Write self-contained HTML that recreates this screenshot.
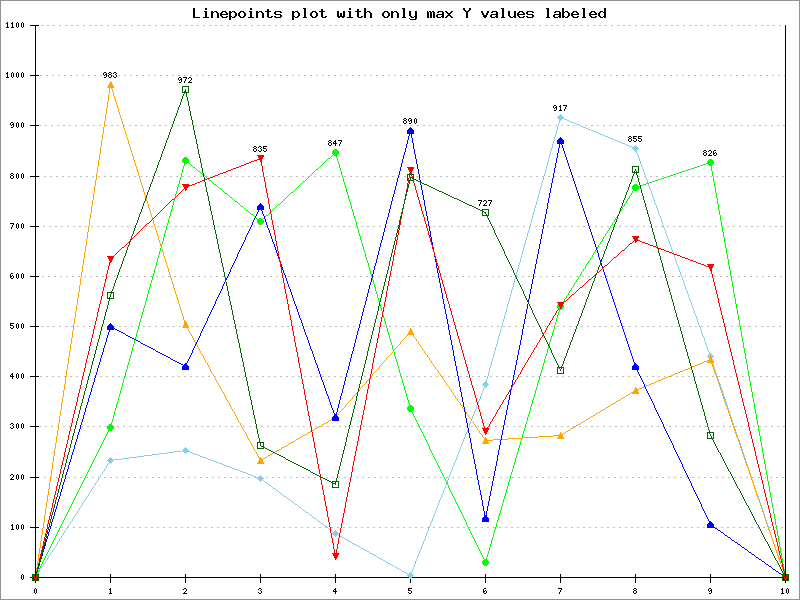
<!DOCTYPE html>
<html lang="en">
<head>
<meta charset="utf-8">
<title>Linepoints plot with only max Y values labeled</title>
<style>
  html, body { margin: 0; padding: 0; background: #ffffff; }
  body { width: 800px; height: 600px; overflow: hidden; font-family: "Liberation Sans", sans-serif; }
  svg { display: block; width: 800px; height: 600px; }
  /* every drawn primitive is a 1px, non-antialiased run (PHPlot / GD look) */
  .px path, .px line { fill: none; stroke-width: 1; stroke-linecap: butt; }
  .grid line { stroke: #bebebe; stroke-dasharray: 2 4; }
  .live text { font-family: "Liberation Mono", monospace; fill: transparent; stroke: none; }
</style>
</head>
<body>
<svg width="800" height="600" viewBox="0 0 800 600" shape-rendering="crispEdges" role="img" aria-label="Linepoints plot with only max Y values labeled">
  <!-- image background + plain image border -->
  <rect x="0" y="0" width="800" height="600" fill="#ffffff"/>
  <rect x="0.5" y="0.5" width="799" height="599" fill="none" stroke="#929292" stroke-width="1"/>

  <!-- main title (GD giant 9x15 bitmap font) -->
  <g class="px title">
    <path stroke="#000000" d="M193.5 8v10M194.5 8v10M205 8.5h2M250 8.5h2M303 8.5h3M349 8.5h2M364.5 8v10M365.5 8v10M402 8.5h3M463 8.5h2M469.5 8v3M470.5 8v2M501 8.5h3M546 8.5h3M562.5 8v10M563.5 8v10M582 8.5h3M604.5 8v10M605.5 8v10M205 9.5h2M250 9.5h2M267.5 9v8M268.5 9v9M304.5 9v9M305.5 9v9M321.5 9v8M322.5 9v9M349 9.5h2M357.5 9v8M358.5 9v9M403.5 9v9M404.5 9v9M463 9.5h2M502.5 9v9M503.5 9v9M547.5 9v9M548.5 9v9M583.5 9v9M584.5 9v9M464 10.5h2M468.5 10v2M204 11.5h3M211.5 11v7M212.5 11v7M214 11.5h3M222 11.5h4M229.5 11v9M230.5 11v9M232 11.5h3M240 11.5h4M249 11.5h3M256.5 11v7M257.5 11v7M259 11.5h3M265 11.5h2M269 11.5h2M275 11.5h6M292.5 11v9M293.5 11v9M295 11.5h3M312 11.5h4M319 11.5h2M323 11.5h2M337.5 11v6M338.5 11v7M343.5 11v7M344.5 11v6M348 11.5h3M355 11.5h2M359 11.5h2M367 11.5h3M384 11.5h4M391.5 11v7M392.5 11v7M394 11.5h3M409.5 11v5M410.5 11v6M415.5 11v9M416.5 11v8M427.5 11v7M429 11.5h2M432 11.5h2M438 11.5h5M445 11.5h2M451 11.5h2M465 11.5h3M481 11.5h2M487.5 11v4M488.5 11v2M492 11.5h5M508.5 11v5M509.5 11v6M514.5 11v7M515.5 11v7M519 11.5h4M527 11.5h6M555 11.5h5M565 11.5h3M573 11.5h4M591 11.5h4M600 11.5h3M205.5 12v6M206.5 12v6M213 12.5h1M216 12.5h2M221.5 12v5M222 12.5h1M225 12.5h2M231 12.5h1M234 12.5h2M239.5 12v5M240 12.5h1M243 12.5h2M250.5 12v6M251.5 12v6M258 12.5h1M261 12.5h2M274 12.5h2M280 12.5h2M294 12.5h1M297 12.5h2M311.5 12v5M312 12.5h1M315 12.5h2M349.5 12v6M350.5 12v6M366 12.5h1M369 12.5h2M383.5 12v5M384 12.5h1M387 12.5h2M393 12.5h1M396 12.5h2M428.5 12v6M430.5 12v6M431.5 12v6M433.5 12v6M434.5 12v6M437 12.5h2M442.5 12v6M443.5 12v6M446 12.5h2M450 12.5h2M466.5 12v6M467.5 12v6M481 12.5h2M491 12.5h2M496.5 12v6M497.5 12v6M518.5 12v5M519 12.5h1M522 12.5h2M526 12.5h2M532 12.5h2M554 12.5h2M559.5 12v6M560.5 12v6M564 12.5h1M567 12.5h2M572.5 12v5M573 12.5h1M576 12.5h2M590.5 12v5M591 12.5h1M594 12.5h2M599.5 12v5M600 12.5h1M603 12.5h1M217.5 13v5M218.5 13v5M220.5 13v3M226 13.5h2M235.5 13v4M236.5 13v3M238.5 13v3M244.5 13v4M245.5 13v3M262.5 13v5M263.5 13v5M274 13.5h2M298.5 13v4M299.5 13v3M310.5 13v3M316.5 13v4M317.5 13v3M340.5 13v4M341.5 13v4M370.5 13v5M371.5 13v5M382.5 13v3M388.5 13v4M389.5 13v3M397.5 13v5M398.5 13v5M447 13.5h4M482 13.5h2M486.5 13v4M517.5 13v3M523 13.5h2M526 13.5h2M568.5 13v4M569.5 13v3M571.5 13v3M577 13.5h2M589.5 13v3M595 13.5h2M598.5 13v3M222 14.5h6M275 14.5h6M437 14.5h5M448 14.5h2M482 14.5h2M491 14.5h5M519 14.5h6M527 14.5h6M554 14.5h5M573 14.5h6M591 14.5h6M280.5 15v3M281.5 15v2M436 15.5h2M447 15.5h4M483 15.5h3M490 15.5h2M532.5 15v3M533.5 15v2M553 15.5h2M222.5 16v2M226 16.5h2M231 16.5h1M234.5 16v2M240.5 16v2M243.5 16v2M271 16.5h2M274 16.5h2M294 16.5h1M297.5 16v2M312.5 16v2M315.5 16v2M325 16.5h2M339.5 16v2M342.5 16v2M361 16.5h2M384.5 16v2M387.5 16v2M411.5 16v2M414 16.5h1M436 16.5h2M441 16.5h1M446 16.5h2M450 16.5h2M483 16.5h3M490 16.5h2M495 16.5h1M510.5 16v2M513 16.5h1M519.5 16v2M523 16.5h2M526 16.5h2M553 16.5h2M558 16.5h1M564 16.5h1M567.5 16v2M573.5 16v2M577 16.5h2M591.5 16v2M595 16.5h2M600.5 16v2M603 16.5h1M195 17.5h5M203 17.5h2M207 17.5h2M223 17.5h4M232 17.5h2M241 17.5h2M248 17.5h2M252 17.5h2M269 17.5h3M275 17.5h5M295 17.5h2M303 17.5h1M306 17.5h1M313 17.5h2M323 17.5h3M347 17.5h2M351 17.5h2M359 17.5h3M385 17.5h2M402 17.5h1M405 17.5h1M412 17.5h2M437 17.5h4M445 17.5h2M451 17.5h2M484 17.5h2M491 17.5h4M501 17.5h1M504 17.5h1M511 17.5h2M520 17.5h4M527 17.5h5M546 17.5h1M549 17.5h1M554 17.5h4M565 17.5h2M574 17.5h4M582 17.5h1M585 17.5h1M592 17.5h4M601 17.5h2M409 18.5h1M410 19.5h5"/>
  </g>

  <!-- dashed horizontal grid (2 on / 4 off, phase carried from line to line) -->
  <g class="px grid">
    <line x1="36" y1="577.5" x2="785" y2="577.5" stroke-dashoffset="0"/>
    <line x1="36" y1="527.5" x2="785" y2="527.5" stroke-dashoffset="5"/>
    <line x1="36" y1="477.5" x2="785" y2="477.5" stroke-dashoffset="4"/>
    <line x1="36" y1="426.5" x2="785" y2="426.5" stroke-dashoffset="3"/>
    <line x1="36" y1="376.5" x2="785" y2="376.5" stroke-dashoffset="2"/>
    <line x1="36" y1="326.5" x2="785" y2="326.5" stroke-dashoffset="1"/>
    <line x1="36" y1="276.5" x2="785" y2="276.5" stroke-dashoffset="0"/>
    <line x1="36" y1="226.5" x2="785" y2="226.5" stroke-dashoffset="5"/>
    <line x1="36" y1="176.5" x2="785" y2="176.5" stroke-dashoffset="4"/>
    <line x1="36" y1="125.5" x2="785" y2="125.5" stroke-dashoffset="3"/>
    <line x1="36" y1="75.5" x2="785" y2="75.5" stroke-dashoffset="2"/>
    <line x1="36" y1="25.5" x2="785" y2="25.5" stroke-dashoffset="1"/>
  </g>

  <!-- axes, tick marks, tick labels (GD tiny 5x8 bitmap font) -->
  <g class="px axes">
    <path stroke="#000000" d="M7.5 22v6M12.5 22v6M17 22.5h1M22 22.5h1M6 23.5h1M11 23.5h1M16.5 23v4M18.5 23v4M21.5 23v4M23.5 23v4M30 25.5h9M35.5 26v557M6 27.5h1M8 27.5h1M11 27.5h1M13 27.5h1M17 27.5h1M22 27.5h1M7.5 72v6M12 72.5h1M17 72.5h1M22 72.5h1M6 73.5h1M11.5 73v4M13.5 73v4M16.5 73v4M18.5 73v4M21.5 73v4M23.5 73v4M30 75.5h5M36 75.5h3M6 77.5h1M8 77.5h1M12 77.5h1M17 77.5h1M22 77.5h1M11 122.5h2M17 122.5h1M22 122.5h1M10.5 123v2M13.5 123v4M16.5 123v4M18.5 123v4M21.5 123v4M23.5 123v4M12 124.5h1M11 125.5h1M30 125.5h5M36 125.5h3M11 127.5h2M17 127.5h1M22 127.5h1M11 173.5h2M17 173.5h1M22 173.5h1M10 174.5h1M13 174.5h1M16.5 174v4M18.5 174v4M21.5 174v4M23.5 174v4M11 175.5h2M10.5 176v2M13.5 176v2M30 176.5h5M36 176.5h3M11 178.5h2M17 178.5h1M22 178.5h1M10 223.5h4M17 223.5h1M22 223.5h1M13 224.5h1M16.5 224v4M18.5 224v4M21.5 224v4M23.5 224v4M12.5 225v2M30 226.5h5M36 226.5h3M11.5 227v2M17 228.5h1M22 228.5h1M11 273.5h2M17 273.5h1M22 273.5h1M10.5 274v4M16.5 274v4M18.5 274v4M21.5 274v4M23.5 274v4M12 275.5h1M11 276.5h1M13.5 276v2M30 276.5h5M36 276.5h3M11 278.5h2M17 278.5h1M22 278.5h1M10 323.5h4M17 323.5h1M22 323.5h1M10.5 324v2M16.5 324v4M18.5 324v4M21.5 324v4M23.5 324v4M11 325.5h2M13.5 326v2M30 326.5h5M36 326.5h3M10 327.5h1M11 328.5h2M17 328.5h1M22 328.5h1M12.5 373v6M17 373.5h1M22 373.5h1M11 374.5h1M16.5 374v4M18.5 374v4M21.5 374v4M23.5 374v4M10.5 375v2M11 376.5h1M13 376.5h1M30 376.5h5M36 376.5h3M17 378.5h1M22 378.5h1M11 423.5h2M17 423.5h1M22 423.5h1M10 424.5h1M13 424.5h1M16.5 424v4M18.5 424v4M21.5 424v4M23.5 424v4M12 425.5h1M13.5 426v2M30 426.5h5M36 426.5h3M10 427.5h1M11 428.5h2M17 428.5h1M22 428.5h1M11 474.5h2M17 474.5h1M22 474.5h1M10 475.5h1M13.5 475v2M16.5 475v4M18.5 475v4M21.5 475v4M23.5 475v4M12 477.5h1M30 477.5h5M36 477.5h3M11.5 478v2M10 479.5h1M12 479.5h2M17 479.5h1M22 479.5h1M12.5 524v6M17 524.5h1M22 524.5h1M11 525.5h1M16.5 525v4M18.5 525v4M21.5 525v4M23.5 525v4M30 527.5h5M36 527.5h3M11 529.5h1M13 529.5h1M17 529.5h1M22 529.5h1M22 574.5h1M110.5 574v9M185.5 574v9M260.5 574v9M335.5 574v9M410.5 574v9M485.5 574v9M560.5 574v9M635.5 574v9M710.5 574v9M785.5 574v9M21.5 575v4M23.5 575v4M30 577.5h5M36 577.5h74M111 577.5h74M186 577.5h74M261 577.5h74M336 577.5h74M411 577.5h74M486 577.5h74M561 577.5h74M636 577.5h74M711 577.5h74M22 579.5h1M35 588.5h1M110.5 588v6M184 588.5h2M259 588.5h2M335.5 588v6M408 588.5h4M484 588.5h2M558 588.5h4M634 588.5h2M709 588.5h2M782.5 588v6M787 588.5h1M34.5 589v4M36.5 589v4M109 589.5h1M183 589.5h1M186.5 589v2M258 589.5h1M261 589.5h1M334 589.5h1M408.5 589v2M483.5 589v4M561 589.5h1M633 589.5h1M636 589.5h1M708.5 589v2M711.5 589v4M781 589.5h1M786.5 589v4M788.5 589v4M260 590.5h1M333.5 590v2M409 590.5h2M485 590.5h1M560.5 590v2M634 590.5h2M710 590.5h1M185 591.5h1M261.5 591v2M334 591.5h1M336 591.5h1M411.5 591v2M484 591.5h1M486.5 591v2M633.5 591v2M636.5 591v2M709 591.5h1M184.5 592v2M258 592.5h1M408 592.5h1M559.5 592v2M35 593.5h1M109 593.5h1M111 593.5h1M183 593.5h1M185 593.5h2M259 593.5h2M409 593.5h2M484 593.5h2M634 593.5h2M709 593.5h2M781 593.5h1M783 593.5h1M787 593.5h1"/>
  </g>

  <!-- data lines: SkyBlue, green, orange, blue, red, DarkGreen -->
  <g class="px lines">
    <path stroke="#0000ff" d="M410.5 130v3M409.5 132v4M411.5 133v5M408.5 136v4M412.5 138v5M407.5 140v4M560.5 140v3M561.5 142v3M413.5 143v6M559.5 143v5M406.5 144v4M562.5 145v3M405.5 148v4M558.5 148v5M563.5 148v3M414.5 149v5M564.5 151v3M404.5 152v3M557.5 153v5M415.5 154v5M565.5 154v3M403.5 155v4M566.5 157v3M556.5 158v5M402.5 159v4M416.5 159v5M567.5 160v3M401.5 163v4M555.5 163v5M568.5 163v3M417.5 164v5M569.5 166v3M400.5 167v4M554.5 168v5M418.5 169v5M570.5 169v3M399.5 171v4M571.5 172v3M553.5 173v5M419.5 174v6M398.5 175v3M572.5 175v3M397.5 178v4M552.5 178v5M573.5 178v3M420.5 180v2M574.5 181v3M396.5 182v4M420.5 183v2M551.5 183v5M575.5 184v3M421.5 185v5M395.5 186v4M576.5 187v3M550.5 188v5M394.5 190v4M422.5 190v5M577.5 190v3M549.5 193v5M578.5 193v3M393.5 194v3M423.5 195v5M579.5 196v3M392.5 197v4M548.5 198v5M580.5 199v3M424.5 200v6M391.5 201v4M581.5 202v3M547.5 203v6M390.5 205v4M582.5 205v3M260.5 206v2M425.5 206v5M259.5 208v2M261.5 208v3M583.5 208v3M389.5 209v4M546.5 209v5M258.5 210v2M262.5 211v3M426.5 211v5M584.5 211v3M257.5 212v2M388.5 213v4M256.5 214v2M263.5 214v2M545.5 214v5M585.5 214v3M255.5 216v2M264.5 216v3M427.5 216v5M387.5 217v3M586.5 217v3M254.5 218v2M265.5 219v3M544.5 219v5M253.5 220v2M386.5 220v4M587.5 220v3M428.5 221v5M252.5 222v3M266.5 222v3M588.5 223v3M385.5 224v4M543.5 224v5M251.5 225v2M267.5 225v3M429.5 226v5M589.5 226v3M250.5 227v2M268.5 228v2M384.5 228v4M249.5 229v2M542.5 229v5M590.5 229v3M269.5 230v3M248.5 231v2M430.5 231v6M383.5 232v4M591.5 232v3M247.5 233v2M270.5 233v3M541.5 234v5M246.5 235v2M592.5 235v3M271.5 236v3M382.5 236v4M245.5 237v3M431.5 237v5M593.5 238v3M272.5 239v3M540.5 239v5M244.5 240v2M381.5 240v3M594.5 241v3M243.5 242v2M273.5 242v2M432.5 242v3M380.5 243v4M242.5 244v2M274.5 244v3M539.5 244v5M595.5 244v3M241.5 246v2M275.5 247v3M379.5 247v4M433.5 247v2M596.5 247v3M240.5 248v2M538.5 249v5M239.5 250v2M276.5 250v3M597.5 250v3M378.5 251v4M238.5 252v2M277.5 253v3M598.5 253v4M237.5 254v3M537.5 254v5M377.5 255v4M434 256.5h1M236.5 257v2M278.5 257v2M599.5 257v3M235.5 259v2M376.5 259v4M435.5 259v3M536.5 259v5M600.5 260v2M234.5 261v2M280 261.5h1M233.5 263v2M375.5 263v3M436.5 263v5M601.5 263v3M281.5 264v3M535.5 264v5M232.5 265v2M374.5 266v4M602.5 266v2M231.5 267v2M282.5 267v3M437.5 268v5M230.5 269v3M534.5 269v5M603.5 269v3M283.5 270v3M373.5 270v4M229.5 272v2M604.5 272v3M284.5 273v2M438.5 273v5M228.5 274v2M372.5 274v4M533.5 274v5M285.5 275v3M605.5 275v3M227.5 276v2M226.5 278v2M286.5 278v3M371.5 278v4M439.5 278v5M606.5 278v3M532.5 279v5M287.5 281v3M607.5 281v3M224.5 282v2M370.5 282v3M440.5 283v5M223.5 284v2M288.5 284v3M531.5 284v5M608.5 284v3M369.5 285v4M222.5 286v3M289.5 287v2M609.5 287v3M441.5 288v5M221.5 289v2M290.5 289v3M368.5 289v4M530.5 289v5M610.5 290v3M220.5 291v2M291.5 292v3M219.5 293v2M367.5 293v4M442.5 293v6M611.5 293v3M529.5 294v5M218.5 295v2M292.5 295v3M612.5 296v3M217.5 297v2M366.5 297v4M293.5 298v3M216.5 299v2M443.5 299v5M528.5 299v3M613.5 299v3M215.5 301v3M294.5 301v3M365.5 301v4M614.5 302v3M214.5 304v2M295.5 304v2M444.5 304v5M527.5 304v5M364.5 305v3M615.5 305v3M213.5 306v2M296.5 306v3M212.5 308v2M363.5 308v4M616.5 308v3M297.5 309v3M445.5 309v5M526.5 309v5M211.5 310v2M617.5 311v3M210.5 312v2M298.5 312v3M362.5 312v4M209.5 314v2M446.5 314v5M525.5 314v5M618.5 314v3M299.5 315v3M208.5 316v2M361.5 316v4M619.5 317v3M207.5 318v3M300.5 318v2M447.5 319v5M524.5 319v5M301.5 320v3M360.5 320v4M620.5 320v3M206.5 321v2M205.5 323v2M302.5 323v3M621.5 323v3M359.5 324v4M448.5 324v6M523.5 324v5M204.5 325v2M110.5 326v2M303.5 326v3M622.5 326v3M111 327.5h2M203.5 327v2M109.5 328v4M113 328.5h2M358.5 328v3M115 329.5h2M202.5 329v2M304.5 329v3M522.5 329v6M623.5 329v3M117 330.5h2M449.5 330v5M119 331.5h2M201.5 331v2M357.5 331v4M108.5 332v3M121 332.5h2M305.5 332v3M624.5 332v3M123 333.5h2M200.5 333v3M125 334.5h1M107.5 335v3M126 335.5h2M306.5 335v2M356.5 335v4M450.5 335v5M521.5 335v5M625.5 335v3M128 336.5h2M199.5 336v2M130 337.5h2M307.5 337v3M106.5 338v4M132 338.5h2M198.5 338v2M626.5 338v3M134 339.5h2M355.5 339v4M136 340.5h2M197.5 340v2M308.5 340v3M451.5 340v5M520.5 340v5M138 341.5h2M627.5 341v3M105.5 342v3M140 342.5h1M196.5 342v2M141 343.5h2M309.5 343v3M354.5 343v4M143 344.5h2M195.5 344v2M628.5 344v3M104.5 345v3M145 345.5h2M452.5 345v5M519.5 345v5M147 346.5h2M194.5 346v2M310.5 346v3M149 347.5h2M353.5 347v4M629.5 347v3M103.5 348v4M151 348.5h2M193.5 348v2M153 349.5h2M311.5 349v2M155 350.5h1M192.5 350v3M453.5 350v6M518.5 350v5M630.5 350v3M156 351.5h2M312.5 351v3M352.5 351v3M102.5 352v3M158 352.5h2M160 353.5h2M191.5 353v2M631.5 353v3M162 354.5h2M313.5 354v3M351.5 354v4M101.5 355v3M164 355.5h2M190.5 355v2M517.5 355v5M166 356.5h2M454.5 356v5M632.5 356v3M168 357.5h2M189.5 357v2M314.5 357v3M100.5 358v4M170 358.5h1M350.5 358v4M171 359.5h2M188.5 359v2M633.5 359v3M173 360.5h2M315.5 360v3M516.5 360v5M175 361.5h2M187.5 361v2M455.5 361v5M99.5 362v3M177 362.5h2M349.5 362v4M634.5 362v3M179 363.5h2M186.5 363v2M316.5 363v2M181 364.5h2M98.5 365v3M183 365.5h3M317.5 365v3M515.5 365v5M635.5 365v3M185 366.5h1M348.5 366v4M456.5 366v5M97.5 368v4M318.5 368v3M636.5 368v2M347.5 370v3M514.5 370v5M637.5 370v2M319.5 371v3M457.5 371v5M96.5 372v3M638.5 372v2M346.5 373v4M320.5 374v3M639.5 374v2M95.5 375v3M513.5 375v5M458.5 376v5M640.5 376v2M321.5 377v3M345.5 377v4M94.5 378v4M641.5 378v2M322.5 380v2M512.5 380v5M642.5 380v2M344.5 381v4M459.5 381v6M93.5 382v3M323.5 382v3M643.5 382v2M644.5 384v3M92.5 385v3M324.5 385v3M343.5 385v4M511.5 385v2M460.5 387v5M645.5 387v2M91.5 388v4M325.5 388v3M342.5 389v4M511 389.5h1M646.5 389v2M510.5 390v5M326.5 391v3M647.5 391v2M90.5 392v3M461.5 392v5M341.5 393v3M648.5 393v2M327.5 394v2M89.5 395v3M509.5 395v5M649.5 395v2M328.5 396v3M340.5 396v4M462.5 397v5M650.5 397v2M88.5 398v4M329.5 399v3M651.5 399v2M339.5 400v4M508.5 400v5M652.5 401v2M87.5 402v3M330.5 402v3M463.5 402v5M653.5 403v2M338.5 404v4M86.5 405v3M331.5 405v3M507.5 405v5M654.5 405v3M464.5 407v5M85.5 408v4M332.5 408v2M337.5 408v4M655.5 408v2M333.5 410v3M506.5 410v5M656.5 410v2M84.5 412v3M336.5 412v4M465.5 412v6M657.5 412v2M334.5 413v3M658.5 414v2M83.5 415v4M505.5 415v5M335.5 416v2M659.5 416v2M466.5 418v5M660.5 418v2M82.5 419v3M504.5 420v5M661.5 420v2M81.5 422v3M662.5 422v2M467.5 423v5M663.5 424v3M80.5 425v4M503.5 425v5M664.5 427v2M468.5 428v5M79.5 429v3M665.5 429v2M502.5 430v5M666.5 431v2M78.5 432v3M469.5 433v5M667.5 433v2M77.5 435v4M501.5 435v5M668.5 435v2M669.5 437v2M470.5 438v5M76.5 439v3M670.5 439v2M500.5 440v5M671.5 441v2M75.5 442v3M471.5 443v6M672.5 443v2M74.5 445v4M499.5 445v5M673.5 445v3M674.5 448v2M73.5 449v3M472.5 449v5M498.5 450v5M675.5 450v2M72.5 452v3M676.5 452v2M473.5 454v5M677.5 454v2M71.5 455v4M497.5 455v6M678.5 456v2M679.5 458v2M70.5 459v3M474.5 459v5M680.5 460v2M496.5 461v5M69.5 462v3M681.5 462v2M475.5 464v5M682.5 464v3M68.5 465v4M495.5 466v5M683.5 467v2M67.5 469v3M476.5 469v6M684.5 469v2M494.5 471v5M685.5 471v2M66.5 472v3M686.5 473v2M65.5 475v4M477.5 475v5M687.5 475v2M493.5 476v5M688.5 477v2M64.5 479v3M689.5 479v2M478.5 480v5M492.5 481v5M690.5 481v2M63.5 482v3M691.5 483v3M62.5 485v4M479.5 485v5M491.5 486v5M692.5 486v2M693.5 488v2M61.5 489v3M480.5 490v5M694.5 490v2M490.5 491v5M60.5 492v4M695.5 492v2M696.5 494v2M481.5 495v5M59.5 496v3M489.5 496v5M697.5 496v2M698.5 498v2M58.5 499v3M482.5 500v6M699.5 500v2M488.5 501v5M57.5 502v4M700.5 502v2M701.5 504v3M56.5 506v3M483.5 506v5M487.5 506v5M702.5 507v2M55.5 509v3M703.5 509v2M484.5 511v5M486.5 511v5M704.5 511v2M54.5 512v4M705.5 513v2M706.5 515v2M53.5 516v3M485.5 516v3M707.5 517v2M52.5 519v3M708.5 519v2M709.5 521v2M51.5 522v4M710.5 523v2M711 525.5h2M50.5 526v3M713 526.5h1M714 527.5h1M715 528.5h2M49.5 529v3M717 529.5h1M718 530.5h2M720 531.5h1M48.5 532v4M721 532.5h2M723 533.5h1M724 534.5h1M725 535.5h2M47.5 536v3M727 536.5h1M728 537.5h2M730 538.5h1M46.5 539v3M731 539.5h1M732 540.5h2M734 541.5h1M45.5 542v4M735 542.5h2M737 543.5h1M738 544.5h2M740 545.5h1M44.5 546v3M741 546.5h1M742 547.5h2M744 548.5h1M43.5 549v3M745 549.5h2M747 550.5h1M748 551.5h1M749 552.5h2M42.5 553v3M751 553.5h1M752 554.5h2M754 555.5h1M755 556.5h1M41.5 557v2M756 557.5h2M758 558.5h1M759 559.5h2M761 560.5h1M40 561.5h1M762 561.5h2M764 562.5h1M765 563.5h1M39.5 564v2M766 564.5h2M768 565.5h1M769 566.5h2M771 567.5h1M38 568.5h1M772 568.5h1M773 569.5h2M775 570.5h1M776 571.5h2M778 572.5h1M779 573.5h2M781 574.5h1M782 575.5h1M783 576.5h1"/>
    <path stroke="#006400" d="M185.5 89v3M184.5 91v3M186.5 92v5M183.5 94v2M182.5 96v3M187.5 97v4M181.5 99v3M188.5 101v5M180.5 102v3M179.5 105v2M189.5 106v5M178.5 107v3M177.5 110v3M190.5 111v5M176.5 113v3M175.5 116v2M191.5 116v4M174.5 118v3M192.5 120v5M173.5 121v3M172.5 124v3M193.5 125v5M171.5 127v2M170.5 129v3M194.5 130v5M169.5 132v3M168.5 135v3M195.5 135v4M167.5 138v2M196.5 139v5M166.5 140v3M165.5 143v3M197.5 144v5M164.5 146v3M163.5 149v2M198.5 149v5M162.5 151v3M161.5 154v3M199.5 154v4M160.5 157v3M200.5 158v5M159.5 160v2M158.5 162v3M201.5 163v5M157.5 165v3M156.5 168v3M202.5 168v5M635.5 169v2M155.5 171v2M634.5 171v3M636.5 171v4M154.5 173v3M203.5 173v4M633.5 174v2M637.5 175v3M153.5 176v3M632.5 176v3M204.5 177v5M410.5 177v3M411 177.5h1M412 178.5h2M638.5 178v4M152.5 179v3M414 179.5h2M631.5 179v3M409.5 180v4M416 180.5h2M418 181.5h2M151.5 182v2M205.5 182v5M420 182.5h2M630.5 182v2M639.5 182v3M422 183.5h2M150.5 184v3M408.5 184v4M424 184.5h3M629.5 184v3M427 185.5h2M640.5 185v4M429 186.5h2M149.5 187v3M206.5 187v5M431 187.5h2M628.5 187v3M407.5 188v4M433 188.5h2M435 189.5h2M641.5 189v4M148.5 190v2M437 190.5h2M627.5 190v2M439 191.5h3M147.5 192v3M207.5 192v4M406.5 192v4M442 192.5h2M626.5 192v3M444 193.5h2M642.5 193v3M446 194.5h2M146.5 195v3M448 195.5h2M625.5 195v3M208.5 196v5M405.5 196v4M450 196.5h2M643.5 196v4M452 197.5h2M145.5 198v3M454 198.5h3M624.5 198v2M457 199.5h2M404.5 200v4M459 200.5h2M623.5 200v3M644.5 200v3M144.5 201v2M209.5 201v5M461 201.5h2M463 202.5h2M143.5 203v3M465 203.5h2M622.5 203v3M645.5 203v4M403.5 204v4M467 204.5h2M469 205.5h3M142.5 206v3M210.5 206v5M472 206.5h2M621.5 206v2M474 207.5h2M646.5 207v3M402.5 208v4M476 208.5h2M620.5 208v3M141.5 209v3M478 209.5h2M480 210.5h2M647.5 210v4M211.5 211v4M482 211.5h2M619.5 211v3M140.5 212v2M401.5 212v4M484 212.5h2M485 213.5h1M139.5 214v3M486.5 214v2M618.5 214v2M648.5 214v3M212.5 215v5M400.5 216v4M487.5 216v2M617.5 216v3M138.5 217v3M649.5 217v4M488.5 218v2M616.5 219v3M137.5 220v3M213.5 220v5M399.5 220v5M489.5 220v2M650.5 221v3M490.5 222v2M615.5 222v2M136.5 223v2M491.5 224v2M614.5 224v3M651.5 224v4M135.5 225v3M214.5 225v5M398.5 225v4M492.5 226v2M613.5 227v3M134.5 228v3M493.5 228v2M652.5 228v4M397.5 229v4M215.5 230v4M494.5 230v3M612.5 230v2M133.5 231v3M611.5 232v3M653.5 232v3M396.5 233v4M495.5 233v2M132.5 234v2M216.5 234v5M496.5 235v2M610.5 235v3M654.5 235v4M131.5 236v3M395.5 237v4M497.5 237v2M609.5 238v3M130.5 239v3M217.5 239v5M498.5 239v2M655.5 239v3M394.5 241v4M499.5 241v2M608.5 241v2M129.5 242v3M656.5 242v4M500.5 243v2M607.5 243v3M218.5 244v5M128.5 245v2M393.5 245v4M501.5 245v2M606.5 246v3M657.5 246v3M127.5 247v3M502.5 247v2M219.5 249v4M392.5 249v4M503.5 249v2M605.5 249v2M658.5 249v4M126.5 250v3M504.5 251v3M604.5 251v3M125.5 253v3M220.5 253v5M391.5 253v4M659.5 253v3M505.5 254v2M603.5 254v3M124.5 256v2M506.5 256v2M660.5 256v4M390.5 257v4M602.5 257v2M123.5 258v3M221.5 258v5M507.5 258v2M601.5 259v3M508.5 260v2M661.5 260v3M122.5 261v3M389.5 261v5M509.5 262v2M600.5 262v3M222.5 263v4M662.5 263v4M121.5 264v3M510.5 264v2M599.5 265v2M388.5 266v4M511.5 266v2M120.5 267v2M223.5 267v5M598.5 267v3M663.5 267v4M512.5 268v2M119.5 269v3M387.5 270v4M513.5 270v3M597.5 270v3M664.5 271v3M118.5 272v3M224.5 272v5M514.5 273v2M596.5 273v2M386.5 274v4M665.5 274v4M117.5 275v3M515.5 275v2M595.5 275v3M225.5 277v5M516.5 277v2M116.5 278v2M385.5 278v4M594.5 278v3M666.5 278v3M517.5 279v2M115.5 280v3M518.5 281v2M593.5 281v2M667.5 281v4M226.5 282v4M384.5 282v4M114.5 283v3M519.5 283v2M592.5 283v3M520.5 285v2M668.5 285v3M113.5 286v3M227.5 286v5M383.5 286v4M591.5 286v3M521.5 287v2M669.5 288v4M112.5 289v2M522.5 289v2M590.5 289v2M382.5 290v4M111.5 291v3M228.5 291v5M523.5 291v3M589.5 291v3M670.5 292v3M110.5 294v3M381.5 294v4M524.5 294v2M588.5 294v3M671.5 295v4M229.5 296v5M525.5 296v2M109.5 297v4M587.5 297v2M380.5 298v4M526.5 298v2M586.5 299v3M672.5 299v3M527.5 300v2M108.5 301v4M230.5 301v4M379.5 302v4M528.5 302v2M585.5 302v3M673.5 302v4M529.5 304v2M107.5 305v4M231.5 305v5M584.5 305v3M378.5 306v5M530.5 306v2M674.5 306v4M531.5 308v2M583.5 308v2M106.5 309v3M232.5 310v5M532.5 310v3M582.5 310v3M675.5 310v3M377.5 311v4M105.5 312v4M533.5 313v2M581.5 313v3M676.5 313v4M233.5 315v5M376.5 315v4M534.5 315v2M104.5 316v4M580.5 316v2M535.5 317v2M677.5 317v3M579.5 318v3M375.5 319v4M536.5 319v2M103.5 320v4M234.5 320v4M678.5 320v4M537.5 321v2M578.5 321v3M374.5 323v4M538.5 323v2M102.5 324v3M235.5 324v5M577.5 324v2M679.5 324v3M539.5 325v2M576.5 326v3M101.5 327v4M373.5 327v4M540.5 327v2M680.5 327v4M236.5 329v5M541.5 329v3M575.5 329v3M100.5 331v4M372.5 331v4M681.5 331v3M542.5 332v2M574.5 332v2M237.5 334v5M543.5 334v2M573.5 334v3M682.5 334v4M99.5 335v4M371.5 335v4M544.5 336v2M572.5 337v3M545.5 338v2M683.5 338v4M98.5 339v3M238.5 339v4M370.5 339v4M546.5 340v2M571.5 340v2M97.5 342v4M547.5 342v2M570.5 342v3M684.5 342v3M239.5 343v5M369.5 343v4M548.5 344v2M569.5 345v3M685.5 345v4M96.5 346v4M549.5 346v2M368.5 347v4M240.5 348v5M550.5 348v2M568.5 348v2M686.5 349v3M95.5 350v4M551.5 350v3M567.5 350v3M367.5 351v5M687.5 352v4M241.5 353v5M552.5 353v2M566.5 353v3M94.5 354v4M553.5 355v2M366.5 356v4M565.5 356v2M688.5 356v3M554.5 357v2M93.5 358v3M242.5 358v4M564.5 358v3M555.5 359v2M689.5 359v4M365.5 360v4M92.5 361v4M556.5 361v2M563.5 361v3M243.5 362v5M557.5 363v2M690.5 363v3M364.5 364v4M562.5 364v2M91.5 365v4M558.5 365v2M561.5 366v3M691.5 366v4M244.5 367v5M559.5 367v2M363.5 368v4M90.5 369v4M560.5 369v2M692.5 370v3M245.5 372v5M362.5 372v4M89.5 373v3M693.5 373v4M88.5 376v4M361.5 376v4M246.5 377v4M694.5 377v4M87.5 380v4M360.5 380v4M247.5 381v5M695.5 381v3M86.5 384v4M359.5 384v4M696.5 384v4M248.5 386v5M85.5 388v3M358.5 388v4M697.5 388v3M84.5 391v4M249.5 391v5M698.5 391v4M357.5 392v4M83.5 395v4M699.5 395v3M250.5 396v4M356.5 396v5M700.5 398v4M82.5 399v4M251.5 400v5M355.5 401v4M701.5 402v3M81.5 403v3M252.5 405v5M354.5 405v4M702.5 405v4M80.5 406v4M353.5 409v4M703.5 409v3M79.5 410v4M253.5 410v5M704.5 412v4M352.5 413v4M78.5 414v4M254.5 415v4M705.5 416v4M351.5 417v4M77.5 418v3M255.5 419v5M706.5 420v3M76.5 421v4M350.5 421v4M707.5 423v4M256.5 424v5M75.5 425v4M349.5 425v4M708.5 427v3M74.5 429v4M257.5 429v5M348.5 429v4M709.5 430v4M73.5 433v3M347.5 433v4M258.5 434v4M710.5 434v2M72.5 436v4M711.5 436v2M346.5 437v5M259.5 438v5M712.5 438v2M71.5 440v4M713.5 440v2M345.5 442v4M714.5 442v2M260.5 443v3M70.5 444v4M715.5 444v2M261 446.5h2M344.5 446v4M716.5 446v2M263 447.5h2M69.5 448v4M265 448.5h2M717.5 448v2M267 449.5h2M269 450.5h2M343.5 450v4M718.5 450v2M271 451.5h2M68.5 452v3M273 452.5h2M719 452.5h1M275 453.5h2M720.5 453v2M277 454.5h2M342.5 454v4M67.5 455v4M279 455.5h2M721.5 455v2M281 456.5h2M283 457.5h2M722.5 457v2M285 458.5h1M341.5 458v4M66.5 459v4M286 459.5h2M723.5 459v2M288 460.5h2M290 461.5h2M724.5 461v2M292 462.5h2M340.5 462v4M65.5 463v4M294 463.5h2M725.5 463v2M296 464.5h2M298 465.5h2M726.5 465v2M300 466.5h2M339.5 466v4M64.5 467v3M302 467.5h2M727.5 467v2M304 468.5h2M306 469.5h2M728.5 469v2M63.5 470v4M308 470.5h2M338.5 470v4M310 471.5h1M729 471.5h1M311 472.5h2M730.5 472v2M313 473.5h2M62.5 474v4M315 474.5h2M337.5 474v4M731.5 474v2M317 475.5h2M319 476.5h2M732.5 476v2M321 477.5h2M61.5 478v4M323 478.5h2M336.5 478v4M733.5 478v2M325 479.5h2M327 480.5h2M734.5 480v2M329 481.5h2M60.5 482v3M331 482.5h2M335.5 482v3M735.5 482v2M333 483.5h2M736.5 484v2M59.5 485v4M737.5 486v2M738 488.5h1M58.5 489v4M739.5 489v2M740.5 491v2M57.5 493v4M741.5 493v2M742.5 495v2M56.5 497v3M743.5 497v2M744.5 499v2M55.5 500v4M745.5 501v2M746.5 503v2M54.5 504v4M747 505.5h1M748.5 506v2M53.5 508v4M749.5 508v2M750.5 510v2M52.5 512v3M751.5 512v2M752.5 514v2M51.5 515v4M753.5 516v2M754.5 518v2M50.5 519v4M755.5 520v2M756.5 522v2M49.5 523v4M757 524.5h1M758.5 525v2M48.5 527v3M759.5 527v2M760.5 529v2M47.5 530v4M761.5 531v2M762.5 533v2M46.5 534v4M763.5 535v2M764.5 537v2M45.5 538v4M765.5 539v2M766 541.5h1M44.5 542v4M767.5 542v2M768.5 544v2M43.5 546v3M769.5 546v2M770.5 548v2M42.5 549v4M771.5 550v2M772.5 552v2M41.5 553v4M773.5 554v2M774.5 556v2M40.5 557v4M775.5 558v2M776 560.5h1M39.5 561v3M777.5 561v2M778.5 563v2M38.5 564v4M779.5 565v2M780.5 567v2M37.5 568v4M781.5 569v2M782.5 571v2M36.5 572v4M783.5 573v2M784.5 575v2M35.5 576v2M785 577.5h1"/>
    <path stroke="#00ff00" d="M335.5 152v2M334 153.5h1M333 154.5h1M336.5 154v4M332 155.5h1M331 156.5h1M330 157.5h1M328 158.5h2M337.5 158v3M327 159.5h1M185.5 160v2M326 160.5h1M186 161.5h1M325 161.5h1M338.5 161v3M184.5 162v4M187 162.5h2M324 162.5h1M709 162.5h2M189 163.5h1M323 163.5h1M706 163.5h3M710.5 163v2M190 164.5h1M322 164.5h1M339.5 164v4M703 164.5h3M191 165.5h1M321 165.5h1M700 165.5h3M711.5 165v6M183.5 166v3M192 166.5h1M320 166.5h1M697 166.5h3M193 167.5h2M319 167.5h1M694 167.5h3M195 168.5h1M318 168.5h1M340.5 168v3M691 168.5h3M182.5 169v4M196 169.5h1M316 169.5h2M688 169.5h3M197 170.5h1M315 170.5h1M685 170.5h3M198 171.5h2M314 171.5h1M341.5 171v4M682 171.5h3M712.5 171v5M200 172.5h1M313 172.5h1M679 172.5h3M181.5 173v4M201 173.5h1M312 173.5h1M676 173.5h3M202 174.5h1M311 174.5h1M673 174.5h3M204 175.5h1M310 175.5h1M342.5 175v3M670 175.5h3M205 176.5h1M309 176.5h1M667 176.5h3M713.5 176v6M180.5 177v3M206 177.5h1M308 177.5h1M664 177.5h3M307 178.5h1M343.5 178v4M661 178.5h3M208 179.5h1M306 179.5h1M658 179.5h3M179.5 180v4M209 180.5h2M305 180.5h1M655 180.5h3M211 181.5h1M303 181.5h2M652 181.5h3M212 182.5h1M302 182.5h1M344.5 182v3M649 182.5h3M714.5 182v5M213 183.5h1M301 183.5h1M646 183.5h3M178.5 184v3M214 184.5h2M300 184.5h1M643 184.5h3M216 185.5h1M299 185.5h1M345.5 185v3M641 185.5h2M217 186.5h1M298 186.5h1M637 186.5h3M177.5 187v4M218 187.5h1M297 187.5h1M635 187.5h2M715.5 187v6M219 188.5h2M296 188.5h1M346.5 188v4M634.5 188v2M221 189.5h1M295 189.5h1M222 190.5h1M294 190.5h1M633 190.5h1M176.5 191v3M223 191.5h1M293 191.5h1M632.5 191v2M224 192.5h1M291 192.5h2M347.5 192v3M225 193.5h2M290 193.5h1M631.5 193v2M716.5 193v5M175.5 194v3M227 194.5h1M289 194.5h1M228 195.5h1M288 195.5h1M348.5 195v4M630 195.5h1M229 196.5h1M287 196.5h1M629.5 196v2M230 197.5h2M286 197.5h1M232 198.5h1M285 198.5h1M628 198.5h1M717.5 198v6M174.5 199v2M233 199.5h1M284 199.5h1M349.5 199v3M627.5 199v2M234 200.5h1M283 200.5h1M173.5 201v4M235 201.5h2M282 201.5h1M626.5 201v2M237 202.5h1M281 202.5h1M350.5 202v3M238 203.5h1M280 203.5h1M625 203.5h1M239 204.5h1M278 204.5h2M624.5 204v2M718.5 204v6M172.5 205v4M240 205.5h1M277 205.5h1M351.5 205v4M241 206.5h2M276 206.5h1M623 206.5h1M243 207.5h1M275 207.5h1M622.5 207v2M244 208.5h1M274 208.5h1M171.5 209v3M245 209.5h1M273 209.5h1M352.5 209v3M621.5 209v2M246 210.5h2M272 210.5h1M719.5 210v5M248 211.5h1M271 211.5h1M620 211.5h1M170.5 212v4M249 212.5h1M353.5 212v4M250 213.5h1M269 213.5h1M251 214.5h2M268 214.5h1M253 215.5h1M266 215.5h2M617 215.5h1M720.5 215v6M169.5 216v3M254 216.5h1M265 216.5h1M354.5 216v3M616 217.5h1M256 218.5h1M263 218.5h1M615.5 218v2M168.5 219v4M257 219.5h2M262 219.5h1M355.5 219v3M259 220.5h1M261 220.5h1M614.5 220v2M260 221.5h1M721.5 221v5M356.5 222v4M613 222.5h1M167.5 223v3M612.5 223v2M611 225.5h1M166.5 226v4M357.5 226v3M610.5 226v2M722.5 226v6M609.5 228v2M358.5 229v4M165.5 230v3M608 230.5h1M607.5 231v2M723.5 232v5M164.5 233v4M359.5 233v3M606 233.5h1M605.5 234v2M360.5 236v4M604 236.5h1M163.5 237v4M603.5 237v2M724.5 237v6M602.5 239v2M361.5 240v3M162.5 241v3M601 241.5h1M600.5 242v2M362.5 243v3M725.5 243v5M161.5 244v2M599 244.5h1M598.5 245v2M363.5 246v4M597.5 247v2M160.5 248v3M726.5 248v6M364.5 250v3M595.5 250v2M159.5 251v4M594 252.5h1M365.5 253v4M593.5 253v2M727.5 254v5M158.5 255v3M592.5 255v2M366.5 257v3M591 257.5h1M157.5 258v4M590.5 258v2M728.5 259v6M367.5 260v3M589 260.5h1M588.5 261v2M156.5 262v4M368.5 263v4M587 263.5h1M586.5 264v2M729.5 265v5M155.5 266v3M585.5 266v2M369.5 267v3M584 268.5h1M154.5 269v4M583.5 269v2M370.5 270v4M730.5 270v6M582 271.5h1M581.5 272v2M153.5 273v3M371.5 274v3M580.5 274v2M152.5 276v4M579 276.5h1M731.5 276v5M578.5 277v2M372.5 278v2M577 279.5h1M151.5 280v3M373.5 280v4M576.5 280v2M732.5 281v6M575 282.5h1M150.5 283v4M574.5 283v2M374.5 284v3M573.5 285v2M149.5 287v3M375.5 287v4M572 287.5h1M733.5 287v6M571.5 288v2M148.5 290v4M570 290.5h1M376.5 291v3M569.5 291v2M568.5 293v2M734.5 293v5M147.5 294v4M377.5 294v4M567 295.5h1M566.5 296v2M146.5 298v3M378.5 298v3M565 298.5h1M735.5 298v6M564.5 299v2M145.5 301v4M379 301.5h1M563 301.5h1M380.5 304v4M736.5 304v5M144.5 305v3M561 305.5h1M560.5 306v2M143.5 308v4M381.5 308v3M559.5 308v4M737.5 309v6M382 311.5h1M142.5 312v3M558.5 312v3M141.5 315v4M383.5 315v3M557.5 315v3M738.5 315v5M384.5 318v3M556.5 318v4M140.5 319v3M739.5 320v6M385.5 321v4M139.5 322v4M555.5 322v3M386.5 325v3M554.5 325v4M138.5 326v4M740.5 326v5M387.5 328v4M553.5 329v3M137.5 330v3M741.5 331v6M388.5 332v3M552.5 332v4M136.5 333v4M389.5 335v4M551.5 336v3M135.5 337v2M742.5 337v5M390.5 339v3M550.5 339v3M134.5 340v4M391.5 342v3M549.5 342v4M743.5 342v6M133.5 344v3M392.5 345v4M548.5 346v3M132.5 347v4M744.5 348v5M393 349.5h1M547.5 349v4M131.5 351v4M394.5 352v4M546.5 353v3M745.5 353v6M130.5 355v3M395.5 356v3M545.5 356v3M129.5 358v4M396.5 359v3M544.5 359v4M746.5 359v5M128.5 362v3M397.5 362v4M543.5 363v3M747.5 364v6M127.5 365v4M398.5 366v3M542.5 366v4M126.5 369v3M399.5 369v4M541.5 370v3M748.5 370v6M125.5 372v4M400.5 373v3M540.5 373v3M124.5 376v3M401.5 376v3M539.5 376v4M749.5 376v5M123.5 379v4M402.5 379v4M538.5 380v3M750.5 381v6M122.5 383v4M403.5 383v3M537.5 383v4M404.5 386v4M121.5 387v3M536.5 387v3M751.5 387v5M120.5 390v4M405.5 390v3M535.5 390v4M752.5 392v6M406.5 393v4M119.5 394v3M534.5 394v3M118.5 397v4M407.5 397v3M533.5 397v3M753.5 398v5M408.5 400v3M532.5 400v4M117.5 401v3M409.5 403v4M754.5 403v6M116.5 404v4M531.5 404v3M410.5 407v3M530.5 407v4M115.5 408v3M755.5 409v5M411.5 410v2M114.5 411v4M529.5 411v3M412.5 412v2M413.5 414v2M528.5 414v3M756.5 414v6M113.5 415v4M414.5 416v2M527.5 417v4M415.5 418v2M112.5 419v3M416.5 420v2M757.5 420v5M526.5 421v3M111.5 422v4M417.5 422v2M418.5 424v2M525.5 424v4M758.5 425v6M110.5 426v2M419.5 426v2M109.5 428v2M420.5 428v2M524.5 428v3M108.5 430v2M421.5 430v2M523.5 431v3M759.5 431v5M107.5 432v2M422.5 432v2M106.5 434v2M423.5 434v2M522.5 434v4M105.5 436v2M424.5 436v2M760.5 436v6M104.5 438v2M425.5 438v2M521.5 439v2M103.5 440v2M426.5 440v2M520.5 441v4M102.5 442v2M427.5 442v2M761.5 442v5M101.5 444v2M428.5 444v2M519.5 445v3M100.5 446v2M429.5 446v3M762.5 447v6M99.5 448v2M518.5 448v4M430.5 449v2M98.5 450v2M431.5 451v2M97.5 452v2M517.5 452v3M432.5 453v2M763.5 453v6M96.5 454v2M433.5 455v2M516.5 455v3M95.5 456v2M434.5 457v2M94.5 458v2M515.5 458v4M435.5 459v2M764.5 459v5M93.5 460v2M436.5 461v2M92.5 462v2M514.5 462v3M437.5 463v2M91.5 464v2M765.5 464v6M438.5 465v2M513.5 465v4M90.5 466v2M439.5 467v2M89.5 468v2M440.5 469v2M512.5 469v3M88.5 470v2M766.5 470v5M441.5 471v2M87.5 472v2M511.5 472v3M442.5 473v2M86.5 474v2M443.5 475v2M510.5 475v4M767.5 475v6M85.5 476v2M444.5 477v2M84.5 478v2M445.5 479v2M509.5 479v3M83.5 480v2M446.5 481v2M768.5 481v5M82.5 482v2M508.5 482v4M447.5 483v2M81.5 484v2M448.5 485v3M80.5 486v2M507.5 486v3M769.5 486v6M79.5 488v2M449.5 488v2M506.5 489v4M78.5 490v2M450.5 490v2M77.5 492v2M451.5 492v2M770.5 492v5M505.5 493v3M76.5 494v2M452.5 494v2M75.5 496v2M453.5 496v2M504.5 496v3M771.5 497v6M74.5 498v2M454.5 498v2M503.5 499v4M73.5 500v2M455.5 500v2M72.5 502v2M456.5 502v2M502.5 503v3M772.5 503v5M71.5 504v2M457.5 504v2M70.5 506v2M458.5 506v2M501.5 506v4M69.5 508v2M459.5 508v2M773.5 508v6M68.5 510v2M460.5 510v2M500.5 510v3M67.5 512v2M461.5 512v2M499.5 513v3M66.5 514v2M462.5 514v2M774.5 514v5M65.5 516v2M463.5 516v2M498.5 516v4M64.5 518v2M464.5 518v2M775.5 519v6M63.5 520v2M465.5 520v2M497.5 520v3M62.5 522v2M466.5 522v3M496.5 523v4M61.5 524v2M467.5 525v2M776.5 525v5M60.5 526v2M468.5 527v2M495.5 527v3M59.5 528v2M469.5 529v2M58.5 530v2M494.5 530v3M777.5 530v6M470.5 531v2M57.5 532v2M471.5 533v2M493.5 533v4M56.5 534v2M472.5 535v2M55.5 536v2M778.5 536v6M473.5 537v2M492.5 537v3M54.5 538v2M474.5 539v2M53.5 540v2M491.5 540v4M475.5 541v2M52.5 542v2M779.5 542v5M476.5 543v2M51.5 544v2M490.5 544v3M477.5 545v2M50.5 546v2M478.5 547v2M489.5 547v4M780.5 547v6M49.5 548v2M479.5 549v2M48.5 550v2M480.5 551v2M488.5 551v3M47.5 552v2M481.5 553v2M781.5 553v5M46.5 554v2M487.5 554v3M482.5 555v2M45.5 556v2M483.5 557v2M486.5 557v4M44.5 558v2M782.5 558v5M484.5 559v2M43.5 560v2M485.5 561v2M42.5 562v2M41.5 564v2M783.5 564v3M40.5 566v2M39.5 568v2M784.5 569v2M38.5 570v2M37.5 572v2"/>
    <path stroke="#87ceeb" d="M560 117.5h2M560 118.5h1M562 118.5h2M559.5 119v4M564 119.5h3M567 120.5h2M569 121.5h2M571 122.5h3M558.5 123v3M574 123.5h2M576 124.5h3M579 125.5h2M557.5 126v4M581 126.5h2M583 127.5h3M586 128.5h2M588 129.5h3M556.5 130v4M591 130.5h2M593 131.5h3M596 132.5h2M598 133.5h2M555.5 134v3M600 134.5h3M603 135.5h2M605 136.5h3M554.5 137v4M608 137.5h2M610 138.5h3M613 139.5h2M615 140.5h2M553.5 141v3M617 141.5h3M620 142.5h2M622 143.5h3M552.5 144v4M625 144.5h2M627 145.5h2M629 146.5h3M632 147.5h2M551.5 148v3M634 148.5h2M635 149.5h1M636.5 150v3M550.5 151v4M637.5 153v2M549.5 155v3M638.5 155v3M548.5 158v4M639.5 158v3M640.5 161v3M547.5 162v4M641.5 164v3M546.5 166v3M642.5 167v2M545.5 169v4M643.5 169v3M644.5 172v3M544.5 173v3M645.5 175v3M543.5 176v4M646.5 178v2M542.5 180v3M647.5 180v3M541.5 183v4M648.5 184v2M649.5 186v3M540.5 187v3M650.5 189v2M539.5 190v4M651.5 191v3M538.5 194v4M652.5 194v3M653.5 197v3M537.5 198v3M654.5 200v3M536.5 201v4M655.5 203v2M535.5 205v3M656.5 205v3M534.5 208v4M657.5 208v3M658.5 211v3M533.5 212v3M659.5 214v2M532.5 215v4M660.5 216v3M531.5 219v4M661.5 219v3M662.5 222v3M530.5 223v3M663.5 225v3M529.5 226v4M664.5 228v2M528.5 230v3M665.5 230v3M527.5 233v4M666.5 233v3M667.5 236v3M526.5 237v3M668.5 239v2M525.5 240v4M669.5 241v3M524.5 244v3M670.5 244v3M523.5 247v4M671.5 247v3M672.5 250v2M522.5 251v4M673 252.5h1M673 254.5h1M521.5 255v3M674.5 255v3M520.5 258v4M675.5 258v3M676.5 261v3M519.5 262v3M677.5 264v2M518.5 265v4M678.5 266v3M517.5 269v3M679.5 269v3M516.5 272v4M680.5 272v3M681.5 275v2M515.5 277v2M682.5 277v3M514.5 279v4M683.5 280v3M513.5 283v4M684.5 283v3M685.5 286v3M512.5 287v3M686.5 289v2M511.5 290v4M687.5 291v3M510.5 294v3M688.5 294v3M509.5 297v4M689.5 297v3M690.5 300v2M508.5 301v3M691.5 302v3M507.5 304v4M692.5 305v3M506.5 308v4M693.5 308v3M694.5 311v3M505.5 312v3M695.5 314v2M504.5 315v4M696.5 316v3M503.5 319v3M697.5 319v3M502.5 322v4M698.5 322v3M699.5 325v2M501.5 326v3M700.5 327v3M500.5 329v4M701.5 330v3M499.5 333v3M702.5 333v3M498.5 336v4M703.5 336v2M704.5 338v3M497.5 340v4M705.5 341v3M496.5 344v3M706.5 344v3M495.5 347v4M707.5 347v3M708.5 350v2M494.5 351v3M709.5 352v3M493.5 354v4M710.5 355v3M492.5 358v3M711.5 358v3M491.5 361v4M712.5 361v3M713.5 364v3M490.5 365v3M714.5 367v3M489.5 368v4M715.5 370v3M488.5 372v4M716.5 373v2M487.5 376v3M717.5 376v2M486.5 379v4M718.5 379v2M719.5 382v2M485.5 383v3M720.5 384v3M484.5 386v2M721.5 387v3M483.5 388v3M722.5 390v3M482.5 391v2M481.5 393v3M723.5 393v3M480.5 396v3M724.5 396v3M479.5 399v2M725.5 399v3M478.5 401v3M726.5 402v3M477 405.5h1M727.5 405v2M476.5 406v3M728.5 408v2M475.5 409v2M474.5 411v3M729.5 411v2M473.5 414v2M730.5 414v2M472.5 416v3M731.5 417v2M732.5 420v2M470.5 421v3M733.5 423v2M469.5 424v3M734.5 426v2M468 427.5h1M467.5 429v3M735.5 429v2M466.5 432v2M736.5 432v2M465.5 434v3M737.5 435v2M464.5 437v2M738 438.5h1M463.5 439v3M739.5 440v2M462.5 442v2M740.5 443v2M461.5 444v3M741.5 446v2M460.5 447v2M459.5 449v3M742.5 449v2M182 450.5h5M174 451.5h8M187 451.5h3M167 452.5h7M190 452.5h2M458.5 452v3M743.5 452v2M159 453.5h8M192 453.5h3M152 454.5h7M195 454.5h3M144 455.5h8M198 455.5h2M457.5 455v2M744.5 455v2M137 456.5h7M200 456.5h3M129 457.5h8M203 457.5h3M456.5 457v3M122 458.5h7M206 458.5h2M745.5 458v2M114 459.5h8M208 459.5h3M110 460.5h4M211 460.5h3M455.5 460v2M109.5 461v2M214 461.5h2M746.5 461v2M216 462.5h3M454.5 462v3M108 463.5h1M219 463.5h3M107.5 464v2M222 464.5h2M747.5 464v2M224 465.5h3M453.5 465v2M106.5 466v2M227 466.5h3M230 467.5h2M452.5 467v3M748 467.5h1M105 468.5h1M232 468.5h3M104.5 469v2M235 469.5h3M238 470.5h2M451.5 470v2M749 470.5h1M103 471.5h1M240 471.5h3M102.5 472v2M243 472.5h3M450.5 472v3M246 473.5h2M750 473.5h1M101 474.5h1M248 474.5h3M100.5 475v2M251 475.5h3M449.5 475v2M254 476.5h2M751 476.5h1M99 477.5h1M256 477.5h3M448.5 477v3M98.5 478v2M259 478.5h2M261 479.5h2M752 479.5h1M97.5 480v2M263 480.5h1M447.5 480v3M264 481.5h1M96 482.5h1M265 482.5h2M753 482.5h1M95.5 483v2M267 483.5h1M446.5 483v2M268 484.5h1M94 485.5h1M269 485.5h2M445.5 485v3M754 485.5h1M93.5 486v2M271 486.5h1M272 487.5h1M92 488.5h1M273 488.5h2M444.5 488v2M755 488.5h1M91.5 489v2M275 489.5h1M276 490.5h2M443.5 490v3M90 491.5h1M278 491.5h1M756 491.5h1M89.5 492v2M279 492.5h1M280 493.5h2M442.5 493v2M88.5 494v2M282 494.5h1M757 494.5h1M283 495.5h1M441.5 495v3M87 496.5h1M284 496.5h2M758.5 496v2M86.5 497v2M286 497.5h1M287 498.5h1M440.5 498v2M85 499.5h1M288 499.5h2M759 499.5h1M84.5 500v2M290 500.5h1M439.5 500v3M291 501.5h2M83 502.5h1M293 502.5h1M760 502.5h1M82.5 503v2M294 503.5h1M438.5 503v2M295 504.5h2M81.5 505v2M297 505.5h1M437.5 505v3M761 505.5h1M298 506.5h1M80 507.5h1M299 507.5h2M79.5 508v2M301 508.5h1M436.5 508v3M762 508.5h1M302 509.5h1M78 510.5h1M303 510.5h2M77.5 511v2M305 511.5h1M435.5 511v2M763 511.5h1M306 512.5h2M76 513.5h1M308 513.5h1M434.5 513v3M75.5 514v2M309 514.5h1M764 514.5h1M310 515.5h2M74 516.5h1M312 516.5h1M433.5 516v2M73.5 517v2M313 517.5h1M765 517.5h1M314 518.5h2M432.5 518v3M72.5 519v2M316 519.5h1M317 520.5h1M766 520.5h1M71 521.5h1M318 521.5h2M431.5 521v2M70.5 522v2M320 522.5h1M321 523.5h2M430.5 523v3M767 523.5h1M69 524.5h1M323 524.5h1M68.5 525v2M324 525.5h1M325 526.5h2M429.5 526v2M768 526.5h1M67 527.5h1M327 527.5h1M66.5 528v2M328 528.5h1M428.5 528v3M329 529.5h1M769 529.5h1M65 530.5h1M331 530.5h1M64.5 531v2M332 531.5h1M427.5 531v2M333 532.5h2M63.5 533v2M335 533.5h1M426.5 533v3M336 534.5h2M62 535.5h1M338 535.5h1M61.5 536v2M340 536.5h2M425.5 536v3M342 537.5h2M60 538.5h1M344 538.5h1M59.5 539v2M345 539.5h2M424.5 539v2M347 540.5h2M58 541.5h1M349 541.5h2M423.5 541v3M57.5 542v2M351 542.5h1M352 543.5h2M56.5 544v2M354 544.5h2M422.5 544v2M356 545.5h2M55 546.5h1M358 546.5h2M421.5 546v3M54.5 547v2M360 547.5h1M361 548.5h2M53 549.5h1M363 549.5h2M420.5 549v2M52.5 550v2M365 550.5h2M367 551.5h2M419.5 551v3M51 552.5h1M369 552.5h1M777 552.5h1M50.5 553v2M370 553.5h2M372 554.5h2M418.5 554v2M49 555.5h1M374 555.5h2M778 555.5h1M48.5 556v2M376 556.5h1M417.5 556v3M377 557.5h2M47.5 558v2M379 558.5h2M779 558.5h1M381 559.5h2M416.5 559v2M46 560.5h1M383 560.5h2M45.5 561v2M385 561.5h1M415.5 561v3M780 561.5h1M386 562.5h2M44 563.5h1M388 563.5h2M43.5 564v2M390 564.5h2M414.5 564v3M392 565.5h2M42 566.5h1M394 566.5h1M41.5 567v2M395 567.5h2M413.5 567v2M397 568.5h2M40 569.5h1M399 569.5h2M412.5 569v3M39.5 570v2M401 570.5h1M402 571.5h2M38.5 572v2M404 572.5h2M411.5 572v2M406 573.5h2M37 574.5h1M408 574.5h3M410 575.5h1M36 576.5h1"/>
    <path stroke="#ff0000" d="M259 158.5h2M257 159.5h2M260.5 159v2M254 160.5h3M251 161.5h3M261.5 161v5M249 162.5h2M246 163.5h3M244 164.5h2M241 165.5h3M239 166.5h2M262.5 166v6M236 167.5h3M233 168.5h3M231 169.5h2M228 170.5h3M410.5 170v3M226 171.5h2M223 172.5h3M263.5 172v5M411.5 172v4M220 173.5h3M409.5 173v5M218 174.5h2M215 175.5h3M213 176.5h2M412.5 176v2M210 177.5h3M264.5 177v5M207 178.5h3M408.5 178v5M205 179.5h2M413.5 179v4M202 180.5h2M200 181.5h2M197 182.5h3M265.5 182v6M195 183.5h2M407.5 183v5M414.5 183v3M192 184.5h3M189 185.5h3M187 186.5h2M415.5 186v4M185 187.5h2M184 188.5h1M266.5 188v5M183 189.5h1M406.5 189v3M182 190.5h1M416.5 190v3M181 191.5h1M180 192.5h1M179 193.5h1M267.5 193v5M417.5 193v4M178 194.5h1M405.5 194v2M177 195.5h1M176 196.5h1M175 197.5h1M418.5 197v3M174 198.5h1M268.5 198v6M172 199.5h2M404 199.5h1M171 200.5h1M419.5 200v4M170 201.5h1M169 202.5h1M168 203.5h1M167 204.5h1M269.5 204v5M420.5 204v3M166 205.5h1M165 206.5h1M164 207.5h1M421.5 207v4M163 208.5h1M403 208.5h1M162 209.5h1M270.5 209v5M161 210.5h1M160 211.5h1M422.5 211v3M159 212.5h1M402.5 212v2M158 213.5h1M157 214.5h1M271.5 214v6M423.5 214v3M156 215.5h1M155 216.5h1M401.5 216v3M154 217.5h1M424.5 217v4M153 218.5h1M152 219.5h1M151 220.5h1M272.5 220v5M400.5 220v5M150 221.5h1M425.5 221v3M149 222.5h1M147 223.5h2M146 224.5h1M426.5 224v4M145 225.5h1M273.5 225v5M399.5 225v5M144 226.5h1M143 227.5h1M142 228.5h1M427.5 228v3M141 229.5h1M140 230.5h1M274.5 230v5M398.5 230v5M139 231.5h1M428.5 231v4M138 232.5h1M137 233.5h1M136 234.5h1M135 235.5h1M275.5 235v6M397.5 235v5M429.5 235v3M134 236.5h1M133 237.5h1M132 238.5h1M430.5 238v4M131 239.5h1M635 239.5h2M396.5 240v5M634 240.5h1M637 240.5h3M129 241.5h1M276.5 241v5M633 241.5h1M640 241.5h2M128 242.5h1M431.5 242v3M632 242.5h1M642 242.5h3M127 243.5h1M630 243.5h2M645 243.5h3M126 244.5h1M629 244.5h1M648 244.5h2M125 245.5h1M395.5 245v5M432.5 245v4M628 245.5h1M650 245.5h3M124 246.5h1M277.5 246v5M627 246.5h1M653 246.5h3M122 247.5h2M626 247.5h1M656 247.5h1M121 248.5h1M625 248.5h1M658 248.5h3M120 249.5h1M433.5 249v3M624 249.5h1M661 249.5h3M119 250.5h1M394.5 250v5M622 250.5h2M664 250.5h2M118 251.5h1M278.5 251v6M621 251.5h1M666 251.5h3M117 252.5h1M434.5 252v4M620 252.5h1M669 252.5h3M116 253.5h1M619 253.5h1M672 253.5h2M115 254.5h1M618 254.5h1M674 254.5h3M114 255.5h1M393.5 255v6M617 255.5h1M677 255.5h3M113 256.5h1M435.5 256v3M616 256.5h1M680 256.5h2M112 257.5h1M279.5 257v5M614 257.5h2M682 257.5h3M111 258.5h1M613 258.5h1M685 258.5h3M110.5 259v3M436.5 259v4M612 259.5h1M688 259.5h2M611 260.5h1M690 260.5h3M392.5 261v5M610 261.5h1M693 261.5h3M109.5 262v4M280.5 262v5M609 262.5h1M696 262.5h2M437.5 263v3M608 263.5h1M698 263.5h3M607 264.5h1M701 264.5h3M605 265.5h2M704 265.5h2M108.5 266v4M391.5 266v5M438.5 266v4M604 266.5h1M706 266.5h3M281.5 267v6M603 267.5h1M709 267.5h2M602 268.5h1M710.5 268v2M601 269.5h1M107.5 270v4M439.5 270v3M600 270.5h1M711.5 270v4M390.5 271v5M599 271.5h1M598 272.5h1M282.5 273v5M440.5 273v4M106.5 274v5M595 274.5h1M712.5 274v4M594 275.5h1M389.5 276v5M593 276.5h1M441.5 277v3M592 277.5h1M283.5 278v5M591 278.5h1M713.5 278v4M105.5 279v4M589 279.5h2M442.5 280v4M588 280.5h1M388.5 281v5M587 281.5h1M586 282.5h1M714.5 282v4M104.5 283v4M284.5 283v6M585 283.5h1M443.5 284v3M584 284.5h1M583 285.5h1M387.5 286v5M582 286.5h1M715.5 286v4M103.5 287v4M444.5 287v4M580 287.5h2M579 288.5h1M285.5 289v5M578 289.5h1M577 290.5h1M716.5 290v4M102.5 291v5M386.5 291v6M445.5 291v3M576 291.5h1M575 292.5h1M574 293.5h1M286.5 294v5M446.5 294v4M572 294.5h2M717.5 294v4M571 295.5h1M101.5 296v4M570 296.5h1M385.5 297v5M569 297.5h1M447.5 298v3M568 298.5h1M718.5 298v5M287.5 299v5M567 299.5h1M100.5 300v4M566 300.5h1M448.5 301v3M564 301.5h2M384.5 302v5M563 302.5h1M562 303.5h1M719.5 303v4M99.5 304v4M288.5 304v6M449.5 304v4M561 304.5h1M560 305.5h1M559.5 306v2M383.5 307v5M720.5 307v4M98.5 308v4M450.5 308v3M558.5 308v2M289.5 310v5M557 310.5h1M451.5 311v4M556.5 311v2M721.5 311v4M97.5 312v5M382.5 312v5M555.5 313v2M290.5 315v5M452.5 315v3M554 315.5h1M722.5 315v4M553.5 316v2M96.5 317v4M381.5 317v5M453.5 318v4M552.5 318v2M723.5 319v4M291.5 320v6M551 320.5h1M95.5 321v4M550.5 321v2M380.5 322v5M454.5 322v3M549.5 323v2M724.5 323v4M94.5 325v4M455.5 325v4M548 325.5h1M292.5 326v5M547.5 326v2M379.5 327v6M725.5 327v5M546.5 328v2M93.5 329v5M456.5 329v3M545.5 330v2M293.5 331v5M457.5 332v4M544 332.5h1M726.5 332v4M378.5 333v5M543 333.5h1M92.5 334v4M542.5 335v2M294.5 336v6M458.5 336v3M727.5 336v4M541 337.5h1M91.5 338v4M377.5 338v5M540.5 338v2M459.5 339v4M539.5 340v2M728.5 340v4M90.5 342v4M295.5 342v5M538 342.5h1M376.5 343v5M460.5 343v3M537.5 343v2M729.5 344v4M536.5 345v2M89.5 346v5M461.5 346v4M296.5 347v5M535 347.5h1M375.5 348v5M534.5 348v2M730.5 348v4M462.5 350v3M533.5 350v2M88.5 351v4M297.5 352v5M532 352.5h1M731.5 352v4M374.5 353v5M463.5 353v4M531.5 353v2M87.5 355v4M530.5 355v2M732.5 356v4M298.5 357v6M464.5 357v3M529 357.5h1M373.5 358v5M528.5 358v2M86.5 359v4M465.5 360v4M527.5 360v2M733.5 360v5M526 362.5h1M85.5 363v5M299.5 363v5M372.5 363v6M525.5 363v2M466.5 364v3M524.5 365v2M734.5 365v4M467.5 367v4M523 367.5h1M84.5 368v4M300.5 368v5M522.5 368v2M371.5 369v5M735.5 369v4M521.5 370v2M468.5 371v3M83.5 372v4M520.5 372v2M301.5 373v6M736.5 373v4M370.5 374v5M469.5 374v4M519 374.5h1M518.5 375v2M82.5 376v4M517.5 377v2M737.5 377v4M470.5 378v3M302.5 379v5M369.5 379v5M516 379.5h1M81.5 380v5M515.5 380v2M471.5 381v4M738.5 381v4M514.5 382v2M303.5 384v5M368.5 384v5M513 384.5h1M80.5 385v4M472.5 385v3M512.5 385v2M739.5 385v4M511.5 387v2M473.5 388v3M79.5 389v4M304.5 389v6M367.5 389v5M510 389.5h1M740.5 389v5M509.5 390v2M474.5 391v4M508.5 392v2M78.5 393v4M366.5 394v6M507 394.5h1M741.5 394v4M305.5 395v5M475.5 395v3M506.5 395v2M77.5 397v5M505.5 397v2M476.5 398v4M742.5 398v4M504 399.5h1M306.5 400v5M365.5 400v5M503.5 400v2M76.5 402v4M477.5 402v3M502.5 402v2M743.5 402v4M501 404.5h1M307.5 405v6M364.5 405v5M478.5 405v4M500.5 405v2M75.5 406v4M744.5 406v4M499.5 407v2M479.5 409v3M498 409.5h1M74.5 410v4M363.5 410v5M497.5 410v2M745.5 410v4M308.5 411v5M480.5 412v4M496.5 412v2M73.5 414v4M495.5 414v2M746.5 414v4M362.5 415v5M309.5 416v5M481.5 416v3M494 416.5h1M493.5 417v2M72.5 418v5M747.5 418v4M482.5 419v4M492.5 419v2M361.5 420v5M310.5 421v5M491 421.5h1M490.5 422v2M748.5 422v5M71.5 423v4M483.5 423v3M489.5 424v2M360.5 425v5M311.5 426v6M484.5 426v4M488 426.5h1M70.5 427v4M487.5 427v2M749.5 427v4M486.5 429v2M359.5 430v6M485.5 430v2M69.5 431v4M750.5 431v4M312.5 432v5M68.5 435v5M751.5 435v4M358.5 436v5M313.5 437v5M752.5 439v4M67.5 440v4M357.5 441v5M314.5 442v6M753.5 443v4M66.5 444v4M356.5 446v5M754.5 447v4M65.5 448v4M315.5 448v5M355.5 451v5M755.5 451v5M64.5 452v5M316.5 453v5M354.5 456v5M756.5 456v4M63.5 457v4M317.5 458v6M757.5 460v4M62.5 461v4M353.5 461v5M318.5 464v5M758.5 464v4M61.5 465v4M352.5 466v6M759.5 468v4M60.5 469v5M319.5 469v5M351.5 472v5M760.5 472v4M59.5 474v4M320.5 474v2M761.5 476v4M320.5 477v3M350.5 477v5M58.5 478v4M321.5 480v5M762.5 480v4M57.5 482v4M349.5 482v5M763.5 484v5M322.5 485v5M56.5 486v5M348.5 487v5M764.5 489v4M323.5 490v5M55.5 491v4M347.5 492v5M765.5 493v4M54.5 495v4M324.5 495v6M346.5 497v5M766.5 497v4M53.5 499v4M325.5 501v5M767.5 501v4M345.5 502v6M52.5 503v5M768.5 505v4M326.5 506v5M51.5 508v4M344.5 508v5M769.5 509v4M327.5 511v6M50.5 512v4M343.5 513v5M770.5 513v5M49.5 516v4M328.5 517v5M342.5 518v5M771.5 518v4M48.5 520v4M329.5 522v5M772.5 522v4M341.5 523v5M47.5 524v5M773.5 526v4M330.5 527v6M340.5 528v5M46.5 529v4M774.5 530v4M45.5 533v4M331.5 533v5M339.5 533v5M775.5 534v4M44.5 537v4M332.5 538v5M338.5 538v6M776.5 538v4M43.5 541v5M777.5 542v4M333.5 543v6M337.5 544v5M42.5 546v3M778.5 546v5M334.5 549v5M336.5 549v5M41.5 550v3M779.5 551v4M40.5 554v3M335.5 554v3M780.5 555v4M39.5 558v3M781.5 559v4M38 563.5h1M782.5 563v4M37 567.5h1M783.5 567v4M36 571.5h1M784.5 571v4M35 575.5h1M785.5 575v2"/>
    <path stroke="#ffa500" d="M110.5 84v4M111.5 86v3M109.5 88v6M112.5 89v3M113.5 92v4M108.5 94v7M114.5 96v3M115.5 99v3M107.5 101v7M116.5 102v3M117.5 105v3M106.5 108v6M118.5 108v4M119.5 112v3M105.5 114v7M120.5 115v3M121.5 118v3M104.5 121v6M122.5 121v3M123.5 124v4M103.5 127v7M124.5 128v3M125.5 131v3M102.5 134v6M126.5 134v3M127.5 137v3M101.5 140v7M128.5 140v4M129.5 144v3M100.5 147v7M130.5 147v3M131.5 150v3M132.5 153v3M99.5 154v6M133.5 156v4M98.5 160v7M134.5 160v3M135.5 163v3M136.5 166v3M97.5 167v6M137.5 169v3M138.5 172v4M96.5 173v7M139.5 176v3M140.5 179v3M95.5 180v6M141.5 182v3M142.5 185v3M94.5 186v7M143.5 188v4M144.5 192v3M93.5 193v7M145.5 195v3M146.5 198v3M92.5 200v6M147.5 201v3M148.5 204v4M91.5 206v7M149.5 208v3M150.5 211v3M90.5 213v6M151.5 214v3M152.5 217v2M89.5 219v7M153.5 220v4M154.5 224v3M88.5 226v6M155.5 227v3M156.5 230v3M87.5 232v7M157.5 233v3M158.5 236v4M86.5 239v7M159.5 240v3M160.5 243v3M85.5 246v6M161.5 246v3M162.5 249v3M84.5 252v7M163.5 252v4M164.5 256v3M83.5 259v6M165.5 259v3M166.5 262v3M82.5 265v7M167.5 265v3M168.5 268v4M81.5 272v6M169.5 272v3M170.5 275v3M80.5 278v7M171.5 278v3M172.5 281v3M173.5 284v4M79.5 285v7M174.5 288v3M175.5 291v3M78.5 292v6M176.5 294v3M177.5 297v3M77.5 298v7M178.5 300v4M179.5 304v3M76.5 305v6M180.5 307v3M181.5 310v3M75.5 311v7M182.5 313v3M183.5 316v4M74.5 318v6M184.5 320v3M185.5 323v2M73.5 324v7M186.5 325v2M187.5 327v2M188.5 329v2M72.5 331v7M189.5 331v2M410 331.5h1M409 332.5h1M411.5 332v2M190 333.5h1M408 333.5h1M191.5 334v2M407.5 334v2M412 334.5h1M413.5 335v2M192.5 336v2M406 336.5h1M405 337.5h1M414 337.5h1M71.5 338v6M193.5 338v2M404 338.5h1M415 338.5h1M403 339.5h1M416.5 339v2M194.5 340v2M402 340.5h1M401 341.5h1M417 341.5h1M195.5 342v2M400.5 342v2M418.5 342v2M70.5 344v7M196 344.5h1M399 344.5h1M419 344.5h1M197.5 345v2M398 345.5h1M420.5 345v2M397 346.5h1M198.5 347v2M396 347.5h1M421 347.5h1M395 348.5h1M422.5 348v2M199.5 349v2M394 349.5h1M393.5 350v2M423 350.5h1M69.5 351v6M200.5 351v2M424.5 351v2M392 352.5h1M201 353.5h1M391 353.5h1M425 353.5h1M202.5 354v2M390 354.5h1M426 354.5h1M389 355.5h1M427.5 355v2M203.5 356v2M388 356.5h1M68.5 357v7M387 357.5h1M428 357.5h1M204.5 358v2M386.5 358v2M429.5 358v2M709 359.5h2M205.5 360v2M385 360.5h1M430 360.5h1M707 360.5h2M710 360.5h1M384 361.5h1M431.5 361v2M704 361.5h3M711.5 361v3M206 362.5h1M383 362.5h1M702 362.5h2M207.5 363v2M382 363.5h1M432 363.5h1M700 363.5h2M67.5 364v6M381 364.5h1M433.5 364v2M697 364.5h3M712.5 364v3M208.5 365v2M380 365.5h1M695 365.5h2M379.5 366v2M434 366.5h1M692 366.5h3M209.5 367v2M435.5 367v2M690 367.5h1M713.5 367v3M378 368.5h1M688 368.5h2M210.5 369v2M377 369.5h1M436 369.5h1M685 369.5h3M66.5 370v7M376 370.5h1M437 370.5h1M683 370.5h2M714.5 370v3M211.5 371v2M375 371.5h1M438.5 371v2M680 371.5h3M374 372.5h1M678 372.5h2M212 373.5h1M373 373.5h1M439 373.5h1M675 373.5h3M715.5 373v2M213.5 374v2M372.5 374v2M440.5 374v2M673 374.5h2M671 375.5h2M716.5 375v3M214.5 376v2M371 376.5h1M441 376.5h1M668 376.5h3M65.5 377v7M442.5 377v2M666 377.5h2M215.5 378v2M369 378.5h1M663 378.5h3M717.5 378v3M368 379.5h1M443 379.5h1M661 379.5h2M216.5 380v2M367 380.5h1M444.5 380v2M658 380.5h3M366.5 381v2M656 381.5h2M718.5 381v3M217 382.5h1M445 382.5h1M654 382.5h2M218.5 383v2M365 383.5h1M446.5 383v2M651 383.5h3M64.5 384v6M364 384.5h1M649 384.5h2M719.5 384v3M219.5 385v2M363 385.5h1M447 385.5h1M646 385.5h3M362 386.5h1M448 386.5h1M645 386.5h1M220.5 387v2M361 387.5h1M449.5 387v2M642 387.5h2M720.5 387v3M360 388.5h1M639 388.5h3M221.5 389v2M359.5 389v2M450 389.5h1M637 389.5h2M63.5 390v7M451.5 390v2M635 390.5h2M721.5 390v3M222 391.5h1M633 391.5h2M223.5 392v2M452 392.5h1M631 392.5h2M356 393.5h1M453.5 393v2M630 393.5h1M722.5 393v3M224.5 394v2M355 394.5h1M628 394.5h2M354 395.5h1M454 395.5h1M626 395.5h2M225.5 396v2M353 396.5h1M455.5 396v2M625 396.5h1M723.5 396v3M62.5 397v6M352.5 397v2M623 397.5h2M226.5 398v2M456 398.5h1M621 398.5h2M351 399.5h1M457.5 399v2M620 399.5h1M724.5 399v3M227.5 400v2M350 400.5h1M618 400.5h2M349 401.5h1M458 401.5h1M616 401.5h2M228 402.5h1M348 402.5h1M459 402.5h1M615 402.5h1M725.5 402v3M61.5 403v7M229.5 403v2M347 403.5h1M460.5 403v2M613 403.5h2M346 404.5h1M611 404.5h2M230.5 405v2M345.5 405v2M461 405.5h1M610 405.5h1M726.5 405v2M462.5 406v2M608 406.5h2M231.5 407v2M344 407.5h1M606 407.5h2M727.5 407v3M343 408.5h1M463 408.5h1M605 408.5h1M232.5 409v2M342 409.5h1M603 409.5h2M60.5 410v6M341 410.5h1M601 410.5h2M728.5 410v3M233 411.5h1M340 411.5h1M465 411.5h1M600 411.5h1M234.5 412v2M339 412.5h1M466.5 412v2M598 412.5h2M338.5 413v2M596 413.5h2M729.5 413v3M235.5 414v2M467 414.5h1M595 414.5h1M337 415.5h1M468.5 415v2M593 415.5h2M59.5 416v7M236.5 416v2M336 416.5h1M591 416.5h2M730.5 416v3M469 417.5h1M590 417.5h1M237.5 418v2M333 418.5h2M470 418.5h1M588 418.5h2M331 419.5h2M471.5 419v2M586 419.5h2M731.5 419v3M238.5 420v2M329 420.5h2M585 420.5h1M328 421.5h1M472 421.5h1M583 421.5h2M239 422.5h1M326 422.5h2M473.5 422v2M581 422.5h2M732.5 422v3M58.5 423v7M240.5 423v2M324 423.5h2M580 423.5h1M322 424.5h2M474 424.5h1M578 424.5h2M241.5 425v2M321 425.5h1M475.5 425v2M576 425.5h2M733.5 425v3M319 426.5h2M575 426.5h1M242.5 427v2M317 427.5h2M476 427.5h1M573 427.5h2M315 428.5h2M477.5 428v2M571 428.5h2M734.5 428v3M243.5 429v2M314 429.5h1M570 429.5h1M57.5 430v6M312 430.5h2M478 430.5h1M568 430.5h2M244 431.5h1M310 431.5h1M479.5 431v2M566 431.5h2M735.5 431v3M245.5 432v2M308 432.5h2M565 432.5h1M307 433.5h1M480 433.5h1M563 433.5h2M246.5 434v2M305 434.5h2M481 434.5h1M561 434.5h2M736.5 434v3M303 435.5h2M482.5 435v2M553 435.5h8M56.5 436v7M247.5 436v2M301 436.5h2M538 436.5h15M300 437.5h1M483 437.5h1M523 437.5h15M737.5 437v2M248.5 438v2M298 438.5h2M484.5 438v2M508 438.5h15M296 439.5h2M493 439.5h8M502 439.5h6M738.5 439v3M249 440.5h1M295 440.5h1M485 440.5h8M250.5 441v2M293 441.5h2M291 442.5h2M739.5 442v3M55.5 443v6M251.5 443v2M289 443.5h2M288 444.5h1M252.5 445v2M286 445.5h2M740.5 445v3M284 446.5h2M253.5 447v2M282 447.5h2M281 448.5h1M741.5 448v3M54.5 449v7M254.5 449v2M279 449.5h2M277 450.5h2M255 451.5h1M275 451.5h2M742.5 451v3M256.5 452v2M272 453.5h2M257.5 454v2M270 454.5h2M743.5 454v3M268 455.5h2M53.5 456v6M258.5 456v2M267 456.5h1M265 457.5h2M744.5 457v3M259.5 458v2M263 458.5h2M261 459.5h2M260 460.5h1M745.5 460v3M52.5 462v7M746.5 463v3M747.5 466v2M748.5 468v3M51.5 469v7M749.5 471v3M750.5 474v3M50.5 476v6M751.5 477v3M752.5 480v3M49.5 482v7M753.5 483v3M754.5 486v3M48.5 489v6M755.5 489v3M756.5 492v3M47.5 495v7M757.5 495v3M758.5 498v2M759.5 500v3M46.5 502v6M760.5 503v3M761.5 506v3M45.5 508v7M762.5 509v3M763.5 512v3M44.5 515v7M764.5 515v3M765.5 518v3M766.5 521v3M43.5 522v6M767.5 524v3M768.5 527v3M42.5 528v7M769.5 530v2M770.5 532v3M41.5 535v6M771.5 535v3M772.5 538v3M40.5 541v7M773.5 541v3M774.5 544v3M775.5 547v3M39.5 548v6M776.5 550v3M777.5 553v3M38.5 554v7M778.5 556v3M779.5 559v3M37.5 561v6M780.5 562v2M781.5 564v3M782.5 567v3M36.5 568v3M783.5 571v2M35 574.5h1"/>
  </g>

  <!-- point markers (diamond, dot, delta, home, yield, box) + max-value labels -->
  <g class="px points">
    <path stroke="#000000" d="M104 72.5h2M109 72.5h2M114 72.5h2M103.5 73v2M106.5 73v4M108 73.5h1M111 73.5h1M113 73.5h1M116 73.5h1M105 74.5h1M109 74.5h2M115 74.5h1M104 75.5h1M108.5 75v2M111.5 75v2M116.5 75v2M113 76.5h1M104 77.5h2M109 77.5h2M114 77.5h2M179 77.5h2M183 77.5h4M189 77.5h2M178.5 78v2M181.5 78v4M186 78.5h1M188 78.5h1M191.5 78v2M180 79.5h1M185.5 79v2M179 80.5h1M190 80.5h1M184.5 81v2M189.5 81v2M179 82.5h2M188 82.5h1M190 82.5h2M554 105.5h2M560.5 105v6M563 105.5h4M553.5 106v2M556.5 106v4M559 106.5h1M566 106.5h1M555 107.5h1M565.5 107v2M554 108.5h1M564.5 109v2M554 110.5h2M559 110.5h1M561 110.5h1M404 118.5h2M409 118.5h2M415 118.5h1M403 119.5h1M406 119.5h1M408.5 119v2M411.5 119v4M414.5 119v4M416.5 119v4M404 120.5h2M410 120.5h1M403.5 121v2M406.5 121v2M409 121.5h1M404 123.5h2M409 123.5h2M415 123.5h1M629 136.5h2M633 136.5h4M638 136.5h4M628 137.5h1M631 137.5h1M633.5 137v2M638.5 137v2M629 138.5h2M634 138.5h2M639 138.5h2M628.5 139v2M631.5 139v2M636.5 139v2M641.5 139v2M329 140.5h2M335.5 140v6M338 140.5h4M633 140.5h1M638 140.5h1M328 141.5h1M331 141.5h1M334 141.5h1M341 141.5h1M629 141.5h2M634 141.5h2M639 141.5h2M329 142.5h2M333.5 142v2M340.5 142v2M328.5 143v2M331.5 143v2M334 143.5h1M336 143.5h1M339.5 144v2M329 145.5h2M254 146.5h2M259 146.5h2M263 146.5h4M253 147.5h1M256 147.5h1M258 147.5h1M261 147.5h1M263.5 147v2M254 148.5h2M260 148.5h1M264 148.5h2M253.5 149v2M256.5 149v2M261.5 149v2M266.5 149v2M258 150.5h1M263 150.5h1M704 150.5h2M709 150.5h2M714 150.5h2M254 151.5h2M259 151.5h2M264 151.5h2M703 151.5h1M706 151.5h1M708 151.5h1M711.5 151v2M713.5 151v4M704 152.5h2M715 152.5h1M703.5 153v2M706.5 153v2M710 153.5h1M714 153.5h1M716.5 153v2M709.5 154v2M704 155.5h2M708 155.5h1M710 155.5h2M714 155.5h2M478 200.5h4M484 200.5h2M488 200.5h4M481 201.5h1M483 201.5h1M486.5 201v2M491 201.5h1M480.5 202v2M490.5 202v2M485 203.5h1M479.5 204v2M484.5 204v2M489.5 204v2M483 205.5h1M485 205.5h2"/>
    <path stroke="#0000ff" d="M410.5 127v7M409.5 128v6M411.5 128v6M408.5 129v5M412.5 129v5M407.5 130v4M413.5 130v4M560.5 137v7M559.5 138v6M561.5 138v6M558.5 139v5M562.5 139v5M557.5 140v4M563.5 140v4M260.5 203v7M259.5 204v6M261.5 204v6M258.5 205v5M262.5 205v5M257.5 206v4M263.5 206v4M110.5 323v7M109.5 324v6M111.5 324v6M108.5 325v5M112.5 325v5M107.5 326v4M113.5 326v4M185.5 363v7M635.5 363v7M184.5 364v6M186.5 364v6M634.5 364v6M636.5 364v6M183.5 365v5M187.5 365v5M633.5 365v5M637.5 365v5M182.5 366v4M188.5 366v4M632.5 366v4M638.5 366v4M335.5 414v7M334.5 415v6M336.5 415v6M333.5 416v5M337.5 416v5M332.5 417v4M338.5 417v4M485.5 515v7M484.5 516v6M486.5 516v6M483.5 517v5M487.5 517v5M482.5 518v4M488.5 518v4M710.5 521v7M709.5 522v6M711.5 522v6M708.5 523v5M712.5 523v5M707.5 524v4M713.5 524v4M33.5 577v3M783.5 577v3M37.5 578v2M787.5 578v2M34 579.5h1M784 579.5h1"/>
    <path stroke="#006400" d="M182 86.5h7M182.5 87v6M188.5 87v6M183 92.5h5M632 166.5h7M632.5 167v6M638.5 167v6M633 172.5h5M407 174.5h7M407.5 175v6M413.5 175v6M408 180.5h5M482 209.5h7M482.5 210v6M488.5 210v6M483 215.5h5M107 292.5h7M107.5 293v6M113.5 293v6M108 298.5h5M557 367.5h7M557.5 368v6M563.5 368v6M558 373.5h5M707 432.5h7M707.5 433v6M713.5 433v6M708 438.5h5M257 442.5h7M257.5 443v6M263.5 443v6M258 448.5h5M332 481.5h7M332.5 482v6M338.5 482v6M333 487.5h5M32 574.5h7M782 574.5h7M32.5 575v6M38.5 575v6M782.5 575v6M788.5 575v6M33 580.5h5M783 580.5h5"/>
    <path stroke="#00ff00" d="M334.5 149v7M335.5 149v7M336.5 149v7M333.5 150v5M337.5 150v5M332.5 151v3M338.5 151v3M184.5 157v7M185.5 157v7M186.5 157v7M183.5 158v5M187.5 158v5M182.5 159v3M188.5 159v3M709.5 159v7M710.5 159v7M711.5 159v7M708.5 160v5M712.5 160v5M707.5 161v3M713.5 161v3M634.5 184v7M635.5 184v7M636.5 184v7M633.5 185v5M637.5 185v5M632.5 186v3M638.5 186v3M259.5 218v7M260.5 218v7M261.5 218v7M258.5 219v5M262.5 219v5M257.5 220v3M263.5 220v3M557.5 305v3M558.5 305v4M563.5 305v3M562.5 306v3M559.5 307v3M561.5 308v2M560 309.5h1M409.5 405v7M410.5 405v7M411.5 405v7M408.5 406v5M412.5 406v5M407.5 407v3M413.5 407v3M109.5 424v7M110.5 424v7M111.5 424v7M108.5 425v5M112.5 425v5M107.5 426v3M113.5 426v3M484.5 559v7M485.5 559v7M486.5 559v7M483.5 560v5M487.5 560v5M482.5 561v3M488.5 561v3"/>
    <path stroke="#87ceeb" d="M560.5 114v7M559.5 115v5M561.5 115v5M558.5 116v3M562.5 116v3M557 117.5h1M563 117.5h1M635.5 145v7M634.5 146v5M636.5 146v5M633.5 147v3M637.5 147v3M632 148.5h1M638 148.5h1M710.5 353v3M709.5 354v4M711.5 354v3M708.5 355v3M712.5 355v3M707 356.5h1M713 356.5h1M485.5 381v7M484.5 382v5M486.5 382v5M483.5 383v3M487.5 383v3M482 384.5h1M488 384.5h1M185.5 447v7M184.5 448v5M186.5 448v5M183.5 449v3M187.5 449v3M182 450.5h1M188 450.5h1M110.5 457v7M109.5 458v5M111.5 458v5M108.5 459v3M112.5 459v3M107 460.5h1M113 460.5h1M260.5 475v7M259.5 476v5M261.5 476v5M258.5 477v3M262.5 477v3M257 478.5h1M263 478.5h1M335.5 530v7M334.5 531v5M336.5 531v5M333.5 532v3M337.5 532v3M332 533.5h1M338 533.5h1M410.5 572v7M409.5 573v5M411.5 573v5M408.5 574v3M412.5 574v3M407 575.5h1M413 575.5h1"/>
    <path stroke="#ff0000" d="M257 155.5h7M258 156.5h6M258 157.5h5M259 158.5h4M259 159.5h3M260 160.5h2M260 161.5h1M407 167.5h7M408 168.5h6M408 169.5h5M409 170.5h4M409 171.5h3M410 172.5h2M410 173.5h1M182 184.5h7M183 185.5h6M183 186.5h5M184 187.5h4M184 188.5h3M185 189.5h2M185 190.5h1M632 236.5h7M633 237.5h6M633 238.5h5M634 239.5h4M634 240.5h3M635 241.5h2M635 242.5h1M107 256.5h7M108 257.5h6M108 258.5h5M109 259.5h4M109 260.5h3M110 261.5h2M110 262.5h1M707 264.5h7M708 265.5h6M708 266.5h5M709 267.5h4M709 268.5h3M710 269.5h2M710 270.5h1M557 302.5h7M558 303.5h6M558 304.5h5M559 305.5h4M559 306.5h3M560 307.5h2M560 308.5h1M482 428.5h7M483 429.5h6M483 430.5h5M484 431.5h4M484 432.5h3M485 433.5h2M485 434.5h1M332 553.5h7M333 554.5h6M333 555.5h5M334 556.5h4M334 557.5h3M335 558.5h2M335 559.5h1M33 575.5h5M783 575.5h5M33 576.5h5M783 576.5h5M34 577.5h4M784 577.5h4M34 578.5h3M784 578.5h3M35 579.5h2M785 579.5h2"/>
    <path stroke="#ffa500" d="M110.5 81v7M111.5 82v6M109.5 83v5M112.5 84v4M108.5 85v3M113.5 86v2M107 87.5h1M185.5 321v7M186.5 322v6M184.5 323v5M187.5 324v4M183.5 325v3M188.5 326v2M182 327.5h1M410.5 328v7M411.5 329v6M409.5 330v5M412.5 331v4M408.5 332v3M413.5 333v2M407 334.5h1M710.5 356v7M711.5 357v6M709.5 358v5M712.5 359v4M708.5 360v3M713.5 361v2M707 362.5h1M635.5 387v7M636.5 388v6M634.5 389v5M637.5 390v4M633.5 391v3M638.5 392v2M632 393.5h1M560.5 432v7M561.5 433v6M559.5 434v5M562.5 435v4M558.5 436v3M485.5 437v7M563.5 437v2M486.5 438v6M557 438.5h1M484.5 439v5M487.5 440v4M483.5 441v3M488.5 442v2M482 443.5h1M260.5 457v7M261.5 458v6M259.5 459v5M262.5 460v4M258.5 461v3M263.5 462v2M257 463.5h1"/>
  </g>

  <!-- plot border (sides) drawn last -->
  <g class="px pborder">
    <path stroke="#000000" d="M35.5 25v553M785.5 25v553"/>
  </g>

  <!-- live text equivalents of the bitmap labels (transparent) -->
  <g class="live">
    <g><text x="193" y="18" font-size="15" textLength="414" lengthAdjust="spacingAndGlyphs">Linepoints plot with only max Y values labeled</text></g>
    <g><text x="20" y="579" font-size="8" textLength="5" lengthAdjust="spacingAndGlyphs">0</text><text x="10" y="529" font-size="8" textLength="15" lengthAdjust="spacingAndGlyphs">100</text><text x="10" y="479" font-size="8" textLength="15" lengthAdjust="spacingAndGlyphs">200</text><text x="10" y="428" font-size="8" textLength="15" lengthAdjust="spacingAndGlyphs">300</text><text x="10" y="378" font-size="8" textLength="15" lengthAdjust="spacingAndGlyphs">400</text><text x="10" y="328" font-size="8" textLength="15" lengthAdjust="spacingAndGlyphs">500</text><text x="10" y="278" font-size="8" textLength="15" lengthAdjust="spacingAndGlyphs">600</text><text x="10" y="228" font-size="8" textLength="15" lengthAdjust="spacingAndGlyphs">700</text><text x="10" y="178" font-size="8" textLength="15" lengthAdjust="spacingAndGlyphs">800</text><text x="10" y="127" font-size="8" textLength="15" lengthAdjust="spacingAndGlyphs">900</text><text x="5" y="77" font-size="8" textLength="20" lengthAdjust="spacingAndGlyphs">1000</text><text x="5" y="27" font-size="8" textLength="20" lengthAdjust="spacingAndGlyphs">1100</text></g>
    <g><text x="33" y="593" font-size="8" textLength="5" lengthAdjust="spacingAndGlyphs">0</text><text x="108" y="593" font-size="8" textLength="5" lengthAdjust="spacingAndGlyphs">1</text><text x="183" y="593" font-size="8" textLength="5" lengthAdjust="spacingAndGlyphs">2</text><text x="258" y="593" font-size="8" textLength="5" lengthAdjust="spacingAndGlyphs">3</text><text x="333" y="593" font-size="8" textLength="5" lengthAdjust="spacingAndGlyphs">4</text><text x="408" y="593" font-size="8" textLength="5" lengthAdjust="spacingAndGlyphs">5</text><text x="483" y="593" font-size="8" textLength="5" lengthAdjust="spacingAndGlyphs">6</text><text x="558" y="593" font-size="8" textLength="5" lengthAdjust="spacingAndGlyphs">7</text><text x="633" y="593" font-size="8" textLength="5" lengthAdjust="spacingAndGlyphs">8</text><text x="708" y="593" font-size="8" textLength="5" lengthAdjust="spacingAndGlyphs">9</text><text x="780" y="593" font-size="8" textLength="10" lengthAdjust="spacingAndGlyphs">10</text></g>
    <g><text x="103" y="77" font-size="8" textLength="15" lengthAdjust="spacingAndGlyphs">983</text><text x="178" y="82" font-size="8" textLength="15" lengthAdjust="spacingAndGlyphs">972</text><text x="253" y="151" font-size="8" textLength="15" lengthAdjust="spacingAndGlyphs">835</text><text x="328" y="145" font-size="8" textLength="15" lengthAdjust="spacingAndGlyphs">847</text><text x="403" y="123" font-size="8" textLength="15" lengthAdjust="spacingAndGlyphs">890</text><text x="478" y="205" font-size="8" textLength="15" lengthAdjust="spacingAndGlyphs">727</text><text x="553" y="110" font-size="8" textLength="15" lengthAdjust="spacingAndGlyphs">917</text><text x="628" y="141" font-size="8" textLength="15" lengthAdjust="spacingAndGlyphs">855</text><text x="703" y="155" font-size="8" textLength="15" lengthAdjust="spacingAndGlyphs">826</text></g>
  </g>
</svg>
</body>
</html>
